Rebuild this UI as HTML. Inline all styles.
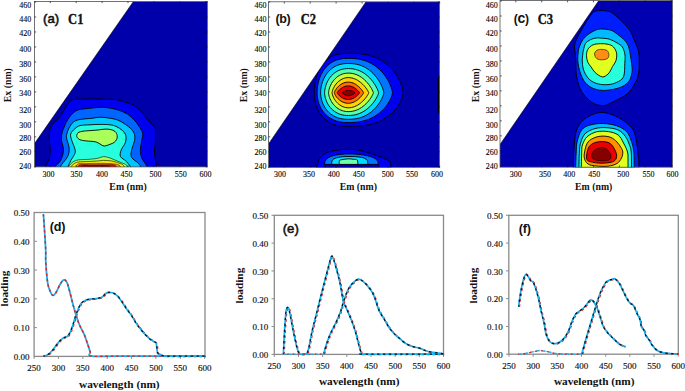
<!DOCTYPE html>
<html><head><meta charset="utf-8"><style>html,body{margin:0;padding:0;background:#fff;width:685px;height:391px;overflow:hidden}svg{display:block}</style></head>
<body>
<svg width="685" height="391" viewBox="0 0 685 391">
<style>
    .tk{font-family:"Liberation Serif",serif;font-size:8px;fill:#000;stroke:#000;stroke-width:0.1px}
    .tk2{font-family:"Liberation Serif",serif;font-size:9px;fill:#111;stroke:#111;stroke-width:0.15px}
    .lab{font-family:"Liberation Serif",serif;font-size:9.8px;font-weight:bold;fill:#111}
    .lab2{font-family:"Liberation Serif",serif;font-size:11.3px;font-weight:bold;fill:#111}
    .ttl{font-family:"Liberation Sans",sans-serif;fill:#111}
    .ttl2{font-family:"Liberation Serif",serif;font-size:13.9px;font-weight:bold;fill:#111}
    </style>
<rect width="685" height="391" fill="#fff"/>
<defs><clipPath id="clipa"><rect x="34.50" y="1.40" width="172.90" height="165.50"/></clipPath></defs>
<g clip-path="url(#clipa)">
<rect x="34.50" y="1.40" width="172.90" height="165.50" fill="rgb(0,0,170)"/>
<path d="M44.00,172.00 C44.35,170.80 45.23,167.02 46.10,164.80 C46.97,162.58 48.52,161.08 49.20,158.70 C49.88,156.32 50.17,153.58 50.20,150.50 C50.23,147.42 49.52,143.12 49.40,140.20 C49.28,137.28 49.18,135.42 49.50,133.00 C49.82,130.58 49.98,127.93 51.30,125.70 C52.62,123.47 55.70,121.48 57.40,119.60 C59.10,117.72 59.80,116.97 61.50,114.40 C63.20,111.83 65.90,106.58 67.60,104.20 C69.30,101.82 69.97,100.93 71.70,100.10 C73.43,99.27 74.95,99.38 78.00,99.20 C81.05,99.02 86.33,99.02 90.00,99.00 C93.67,98.98 95.77,99.00 100.00,99.10 C104.23,99.20 111.13,99.08 115.40,99.60 C119.67,100.12 122.53,101.27 125.60,102.20 C128.67,103.13 131.45,103.90 133.80,105.20 C136.15,106.50 137.87,108.18 139.70,110.00 C141.53,111.82 142.93,113.88 144.80,116.10 C146.67,118.32 149.20,121.25 150.90,123.30 C152.60,125.35 154.23,126.35 155.00,128.40 C155.77,130.45 155.47,133.00 155.50,135.60 C155.53,138.20 155.38,141.35 155.20,144.00 C155.02,146.65 154.38,149.05 154.40,151.50 C154.42,153.95 154.98,156.15 155.30,158.70 C155.62,161.25 156.10,164.58 156.30,166.80 C156.50,169.02 156.47,171.13 156.50,172.00Z" fill="rgb(0,0,240)" stroke="#000" stroke-width="0.90"/>
<path d="M54.00,172.00 C54.23,171.05 54.32,168.18 55.40,166.30 C56.48,164.42 59.15,163.33 60.50,160.70 C61.85,158.07 63.33,153.92 63.50,150.50 C63.67,147.08 61.75,143.12 61.50,140.20 C61.25,137.28 61.67,134.90 62.00,133.00 C62.33,131.10 62.73,130.70 63.50,128.80 C64.27,126.90 65.40,123.82 66.60,121.60 C67.80,119.38 69.00,117.37 70.70,115.50 C72.40,113.63 74.42,111.52 76.80,110.40 C79.18,109.28 82.30,109.20 85.00,108.80 C87.70,108.40 90.50,108.25 93.00,108.00 C95.50,107.75 97.47,107.33 100.00,107.30 C102.53,107.27 105.17,107.35 108.20,107.80 C111.23,108.25 115.00,108.95 118.20,110.00 C121.40,111.05 124.68,112.40 127.40,114.10 C130.12,115.80 132.45,117.98 134.50,120.20 C136.55,122.42 138.33,125.18 139.70,127.40 C141.07,129.62 142.37,131.28 142.70,133.50 C143.03,135.72 142.10,137.87 141.70,140.70 C141.30,143.53 140.25,147.50 140.30,150.50 C140.35,153.50 141.03,156.32 142.00,158.70 C142.97,161.08 145.00,162.58 146.10,164.80 C147.20,167.02 148.18,170.80 148.60,172.00Z" fill="rgb(0,100,255)" stroke="#000" stroke-width="0.90"/>
<path d="M57.50,172.00 C58.17,170.80 59.82,167.37 61.50,164.80 C63.18,162.23 66.32,159.33 67.60,156.60 C68.88,153.87 69.37,151.47 69.20,148.40 C69.03,145.33 66.95,140.77 66.60,138.20 C66.25,135.63 66.75,134.57 67.10,133.00 C67.45,131.43 67.93,130.35 68.70,128.80 C69.47,127.25 70.52,125.07 71.70,123.70 C72.88,122.33 74.08,121.35 75.80,120.60 C77.52,119.85 79.30,119.58 82.00,119.20 C84.70,118.82 89.00,118.63 92.00,118.30 C95.00,117.97 97.00,117.22 100.00,117.20 C103.00,117.18 106.97,117.70 110.00,118.20 C113.03,118.70 115.65,119.18 118.20,120.20 C120.75,121.22 123.08,122.77 125.30,124.30 C127.52,125.83 129.97,127.70 131.50,129.40 C133.03,131.10 134.00,132.62 134.50,134.50 C135.00,136.38 135.00,138.03 134.50,140.70 C134.00,143.37 131.97,147.68 131.50,150.50 C131.03,153.32 130.47,155.38 131.70,157.60 C132.93,159.82 136.93,161.40 138.90,163.80 C140.87,166.20 142.73,170.63 143.50,172.00Z" fill="rgb(0,200,255)" stroke="#000" stroke-width="0.90"/>
<path d="M65.50,172.00 C66.37,170.12 69.32,163.43 70.70,160.70 C72.08,157.97 73.03,157.30 73.80,155.60 C74.57,153.90 75.65,153.07 75.30,150.50 C74.95,147.93 72.47,142.95 71.70,140.20 C70.93,137.45 70.18,135.90 70.70,134.00 C71.22,132.10 73.25,130.20 74.80,128.80 C76.35,127.40 77.47,126.27 80.00,125.60 C82.53,124.93 86.67,125.00 90.00,124.80 C93.33,124.60 96.67,124.40 100.00,124.40 C103.33,124.40 107.32,124.47 110.00,124.80 C112.68,125.13 114.05,125.47 116.10,126.40 C118.15,127.33 120.68,128.87 122.30,130.40 C123.92,131.93 125.30,133.55 125.80,135.60 C126.30,137.65 126.07,140.30 125.30,142.70 C124.53,145.10 122.00,147.68 121.20,150.00 C120.40,152.32 119.60,154.65 120.50,156.60 C121.40,158.55 124.27,159.13 126.60,161.70 C128.93,164.27 133.18,170.28 134.50,172.00Z" fill="rgb(40,255,220)" stroke="#000" stroke-width="0.90"/>
<path d="M77.50,133.50 C77.13,134.22 76.40,135.47 76.80,136.50 C77.20,137.53 78.35,138.97 79.90,139.70 C81.45,140.43 83.53,140.55 86.10,140.90 C88.67,141.25 92.98,141.28 95.30,141.80 C97.62,142.32 98.53,143.30 100.00,144.00 C101.47,144.70 102.43,145.95 104.10,146.00 C105.77,146.05 108.35,144.88 110.00,144.30 C111.65,143.72 112.90,143.30 114.00,142.50 C115.10,141.70 116.07,140.65 116.60,139.50 C117.13,138.35 117.45,136.93 117.20,135.60 C116.95,134.27 116.30,132.53 115.10,131.50 C113.90,130.47 111.85,129.78 110.00,129.40 C108.15,129.02 106.00,129.10 104.00,129.20 C102.00,129.30 100.33,129.77 98.00,130.00 C95.67,130.23 92.50,130.40 90.00,130.60 C87.50,130.80 84.83,130.93 83.00,131.20 C81.17,131.47 79.92,131.82 79.00,132.20 C78.08,132.58 77.87,132.78 77.50,133.50Z" fill="rgb(170,255,90)" stroke="#000" stroke-width="0.90"/>
<path d="M66.50,172.00 C66.85,171.07 67.53,168.07 68.60,166.40 C69.67,164.73 71.27,163.08 72.90,162.00 C74.53,160.92 75.65,160.35 78.40,159.90 C81.15,159.45 86.12,159.58 89.40,159.30 C92.68,159.02 95.73,158.65 98.10,158.20 C100.47,157.75 101.77,156.68 103.60,156.60 C105.43,156.52 107.27,157.15 109.10,157.70 C110.93,158.25 112.60,159.08 114.60,159.90 C116.60,160.72 119.10,161.70 121.10,162.60 C123.10,163.50 125.20,163.73 126.60,165.30 C128.00,166.87 129.02,170.88 129.50,172.00Z" fill="rgb(170,255,90)" stroke="#000" stroke-width="0.60"/>
<path d="M69.50,172.00 C69.72,171.17 70.05,168.38 70.80,167.00 C71.55,165.62 72.73,164.53 74.00,163.70 C75.27,162.87 75.83,162.37 78.40,162.00 C80.97,161.63 86.12,161.68 89.40,161.50 C92.68,161.32 95.73,161.08 98.10,160.90 C100.47,160.72 101.40,160.40 103.60,160.40 C105.80,160.40 108.75,160.45 111.30,160.90 C113.85,161.35 116.90,162.37 118.90,163.10 C120.90,163.83 122.12,163.82 123.30,165.30 C124.48,166.78 125.55,170.88 126.00,172.00Z" fill="rgb(255,230,0)" stroke="#000" stroke-width="0.60"/>
<path d="M75.00,172.00 C75.38,170.73 75.82,165.78 77.30,164.40 C78.78,163.02 80.98,163.87 83.90,163.70 C86.82,163.53 91.15,163.45 94.80,163.40 C98.45,163.35 102.50,163.30 105.80,163.40 C109.10,163.50 112.23,163.58 114.60,164.00 C116.97,164.42 118.68,164.57 120.00,165.90 C121.32,167.23 122.08,170.98 122.50,172.00Z" fill="rgb(255,150,0)" stroke="#000" stroke-width="0.50"/>
<path d="M77.00,172.00 C77.33,170.87 76.83,166.42 79.00,165.20 C81.17,163.98 85.67,164.78 90.00,164.70 C94.33,164.62 100.83,164.62 105.00,164.70 C109.17,164.78 112.58,163.98 115.00,165.20 C117.42,166.42 118.75,170.87 119.50,172.00Z" fill="rgb(235,0,0)" stroke="#000" stroke-width="0.40"/>
<path d="M80.00,172.00 C80.33,171.00 79.50,167.07 82.00,166.00 C84.50,164.93 90.67,165.65 95.00,165.60 C99.33,165.55 104.50,164.63 108.00,165.70 C111.50,166.77 114.67,170.95 116.00,172.00Z" fill="rgb(135,0,0)" stroke="#000" stroke-width="0.30"/>
<path d="M32.50,-1.60 L135.59,-1.60 L32.50,146.47 Z" fill="#fff" stroke="#000" stroke-width="0.6"/>
</g>
<rect x="34.50" y="1.40" width="172.90" height="165.50" fill="none" stroke="#555" stroke-width="0.8"/>
<text x="31.20" y="7.80" class="tk" text-anchor="end">460</text>
<text x="31.20" y="22.00" class="tk" text-anchor="end">440</text>
<text x="31.20" y="36.10" class="tk" text-anchor="end">420</text>
<text x="31.20" y="51.70" class="tk" text-anchor="end">400</text>
<text x="31.20" y="66.50" class="tk" text-anchor="end">380</text>
<text x="31.20" y="81.80" class="tk" text-anchor="end">360</text>
<text x="31.20" y="96.30" class="tk" text-anchor="end">340</text>
<text x="31.20" y="112.90" class="tk" text-anchor="end">320</text>
<text x="31.20" y="127.50" class="tk" text-anchor="end">300</text>
<text x="31.20" y="140.90" class="tk" text-anchor="end">280</text>
<text x="31.20" y="154.90" class="tk" text-anchor="end">260</text>
<text x="31.20" y="169.30" class="tk" text-anchor="end">240</text>
<line x1="34.50" y1="166.80" x2="36.20" y2="166.80" stroke="#111" stroke-width="0.7"/>
<line x1="205.70" y1="166.80" x2="207.40" y2="166.80" stroke="#111" stroke-width="0.7"/>
<line x1="34.50" y1="151.82" x2="36.20" y2="151.82" stroke="#111" stroke-width="0.7"/>
<line x1="205.70" y1="151.82" x2="207.40" y2="151.82" stroke="#111" stroke-width="0.7"/>
<line x1="34.50" y1="136.84" x2="36.20" y2="136.84" stroke="#111" stroke-width="0.7"/>
<line x1="205.70" y1="136.84" x2="207.40" y2="136.84" stroke="#111" stroke-width="0.7"/>
<line x1="34.50" y1="121.86" x2="36.20" y2="121.86" stroke="#111" stroke-width="0.7"/>
<line x1="205.70" y1="121.86" x2="207.40" y2="121.86" stroke="#111" stroke-width="0.7"/>
<line x1="34.50" y1="106.88" x2="36.20" y2="106.88" stroke="#111" stroke-width="0.7"/>
<line x1="205.70" y1="106.88" x2="207.40" y2="106.88" stroke="#111" stroke-width="0.7"/>
<line x1="34.50" y1="91.90" x2="36.20" y2="91.90" stroke="#111" stroke-width="0.7"/>
<line x1="205.70" y1="91.90" x2="207.40" y2="91.90" stroke="#111" stroke-width="0.7"/>
<line x1="34.50" y1="76.92" x2="36.20" y2="76.92" stroke="#111" stroke-width="0.7"/>
<line x1="205.70" y1="76.92" x2="207.40" y2="76.92" stroke="#111" stroke-width="0.7"/>
<line x1="34.50" y1="61.94" x2="36.20" y2="61.94" stroke="#111" stroke-width="0.7"/>
<line x1="205.70" y1="61.94" x2="207.40" y2="61.94" stroke="#111" stroke-width="0.7"/>
<line x1="34.50" y1="46.96" x2="36.20" y2="46.96" stroke="#111" stroke-width="0.7"/>
<line x1="205.70" y1="46.96" x2="207.40" y2="46.96" stroke="#111" stroke-width="0.7"/>
<line x1="34.50" y1="31.98" x2="36.20" y2="31.98" stroke="#111" stroke-width="0.7"/>
<line x1="205.70" y1="31.98" x2="207.40" y2="31.98" stroke="#111" stroke-width="0.7"/>
<line x1="34.50" y1="17.00" x2="36.20" y2="17.00" stroke="#111" stroke-width="0.7"/>
<line x1="205.70" y1="17.00" x2="207.40" y2="17.00" stroke="#111" stroke-width="0.7"/>
<line x1="34.50" y1="2.02" x2="36.20" y2="2.02" stroke="#111" stroke-width="0.7"/>
<line x1="205.70" y1="2.02" x2="207.40" y2="2.02" stroke="#111" stroke-width="0.7"/>
<text x="48.50" y="176.5" class="tk" text-anchor="middle">300</text>
<text x="76.40" y="176.5" class="tk" text-anchor="middle">350</text>
<text x="102.00" y="176.5" class="tk" text-anchor="middle">400</text>
<text x="126.60" y="176.5" class="tk" text-anchor="middle">450</text>
<text x="155.50" y="176.5" class="tk" text-anchor="middle">500</text>
<text x="180.80" y="176.5" class="tk" text-anchor="middle">550</text>
<text x="205.60" y="176.5" class="tk" text-anchor="middle">600</text>
<line x1="50.30" y1="1.40" x2="50.30" y2="3.10" stroke="#111" stroke-width="0.7"/>
<line x1="50.30" y1="165.20" x2="50.30" y2="166.90" stroke="#111" stroke-width="0.7"/>
<line x1="76.20" y1="1.40" x2="76.20" y2="3.10" stroke="#111" stroke-width="0.7"/>
<line x1="76.20" y1="165.20" x2="76.20" y2="166.90" stroke="#111" stroke-width="0.7"/>
<line x1="102.10" y1="1.40" x2="102.10" y2="3.10" stroke="#111" stroke-width="0.7"/>
<line x1="102.10" y1="165.20" x2="102.10" y2="166.90" stroke="#111" stroke-width="0.7"/>
<line x1="128.00" y1="1.40" x2="128.00" y2="3.10" stroke="#111" stroke-width="0.7"/>
<line x1="128.00" y1="165.20" x2="128.00" y2="166.90" stroke="#111" stroke-width="0.7"/>
<line x1="153.90" y1="1.40" x2="153.90" y2="3.10" stroke="#111" stroke-width="0.7"/>
<line x1="153.90" y1="165.20" x2="153.90" y2="166.90" stroke="#111" stroke-width="0.7"/>
<line x1="179.80" y1="1.40" x2="179.80" y2="3.10" stroke="#111" stroke-width="0.7"/>
<line x1="179.80" y1="165.20" x2="179.80" y2="166.90" stroke="#111" stroke-width="0.7"/>
<line x1="205.70" y1="1.40" x2="205.70" y2="3.10" stroke="#111" stroke-width="0.7"/>
<line x1="205.70" y1="165.20" x2="205.70" y2="166.90" stroke="#111" stroke-width="0.7"/>
<text class="lab" x="128.00" y="189.5" text-anchor="middle">Em (nm)</text>
<text class="lab" transform="translate(10.60,85.2) rotate(-90)" text-anchor="middle">Ex (nm)</text>
<text class="ttl" x="43.10" y="23.20" font-weight="normal" font-size="13.2" letter-spacing="0.00" stroke="#111" stroke-width="0.55">(a)</text>
<text class="ttl2" x="68.10" y="23.9" textLength="15.3" lengthAdjust="spacingAndGlyphs" stroke="#111" stroke-width="0.35">C1</text>
<defs><clipPath id="clipb"><rect x="268.50" y="1.80" width="171.10" height="165.60"/></clipPath></defs>
<g clip-path="url(#clipb)">
<rect x="268.50" y="1.80" width="171.10" height="165.60" fill="rgb(0,0,170)"/>
<path d="M314.20,92.80 L314.31,89.27 L314.62,85.77 L315.14,82.33 L315.87,78.99 L316.80,75.76 L317.92,72.69 L319.22,69.79 L320.71,67.09 L322.37,64.61 L324.19,62.36 L326.15,60.36 L328.26,58.62 L330.48,57.14 L332.82,55.92 L335.25,54.96 L337.76,54.24 L340.34,53.75 L342.97,53.46 L345.62,53.33 L348.30,53.30 L352.59,53.33 L356.86,53.50 L361.07,53.86 L365.20,54.47 L369.23,55.35 L373.13,56.52 L376.88,58.00 L380.45,59.78 L383.82,61.86 L386.98,64.21 L389.89,66.80 L392.55,69.61 L394.94,72.59 L397.04,75.70 L398.84,78.88 L400.32,82.06 L401.49,85.19 L402.33,88.15 L402.83,90.82 L403.00,92.80 L402.83,94.48 L402.33,96.74 L401.49,99.26 L400.32,101.91 L398.84,104.61 L397.04,107.30 L394.94,109.94 L392.55,112.47 L389.89,114.85 L386.98,117.05 L383.82,119.04 L380.45,120.80 L376.88,122.31 L373.13,123.57 L369.23,124.56 L365.20,125.31 L361.07,125.83 L356.86,126.13 L352.59,126.27 L348.30,126.30 L345.62,126.28 L342.97,126.17 L340.34,125.92 L337.76,125.50 L335.25,124.89 L332.82,124.08 L330.48,123.04 L328.26,121.79 L326.15,120.31 L324.19,118.62 L322.37,116.71 L320.71,114.60 L319.22,112.31 L317.92,109.86 L316.80,107.25 L315.87,104.52 L315.14,101.68 L314.62,98.76 L314.31,95.80Z" fill="rgb(0,0,240)" stroke="#000" stroke-width="0.90" stroke-linejoin="round"/>
<path d="M317.10,92.80 L317.20,89.84 L317.48,86.91 L317.96,84.03 L318.63,81.21 L319.47,78.49 L320.50,75.88 L321.70,73.40 L323.06,71.08 L324.58,68.92 L326.24,66.95 L328.04,65.17 L329.96,63.60 L332.00,62.24 L334.14,61.09 L336.36,60.16 L338.66,59.44 L341.02,58.93 L343.42,58.60 L345.85,58.44 L348.30,58.40 L351.76,58.45 L355.20,58.67 L358.59,59.12 L361.93,59.81 L365.18,60.77 L368.32,62.01 L371.34,63.51 L374.22,65.27 L376.94,67.27 L379.48,69.48 L381.83,71.86 L383.98,74.39 L385.90,77.02 L387.59,79.69 L389.04,82.36 L390.24,84.97 L391.18,87.44 L391.86,89.68 L392.26,91.58 L392.40,92.80 L392.26,93.85 L391.86,95.49 L391.18,97.43 L390.24,99.56 L389.04,101.81 L387.59,104.12 L385.90,106.42 L383.98,108.69 L381.83,110.88 L379.48,112.94 L376.94,114.84 L374.22,116.57 L371.34,118.09 L368.32,119.39 L365.18,120.45 L361.93,121.28 L358.59,121.88 L355.20,122.26 L351.76,122.46 L348.30,122.50 L345.85,122.47 L343.42,122.33 L341.02,122.04 L338.66,121.60 L336.36,120.98 L334.14,120.18 L332.00,119.19 L329.96,118.01 L328.04,116.65 L326.24,115.12 L324.58,113.42 L323.06,111.55 L321.70,109.55 L320.50,107.41 L319.47,105.16 L318.63,102.80 L317.96,100.37 L317.48,97.88 L317.20,95.35Z" fill="rgb(0,118,255)" stroke="#000" stroke-width="0.90" stroke-linejoin="round"/>
<path d="M320.60,92.80 L320.69,90.57 L320.94,88.23 L321.37,85.88 L321.96,83.55 L322.71,81.27 L323.62,79.06 L324.68,76.95 L325.89,74.94 L327.24,73.07 L328.71,71.34 L330.31,69.77 L332.02,68.36 L333.83,67.13 L335.72,66.08 L337.70,65.22 L339.74,64.54 L341.83,64.04 L343.97,63.71 L346.13,63.54 L348.30,63.50 L351.09,63.56 L353.85,63.80 L356.59,64.25 L359.27,64.93 L361.89,65.85 L364.42,67.01 L366.85,68.41 L369.17,70.01 L371.36,71.80 L373.40,73.76 L375.29,75.86 L377.02,78.04 L378.57,80.28 L379.93,82.53 L381.10,84.74 L382.06,86.86 L382.82,88.82 L383.36,90.56 L383.69,91.97 L383.80,92.80 L383.69,93.55 L383.36,94.82 L382.82,96.40 L382.06,98.17 L381.10,100.09 L379.93,102.09 L378.57,104.12 L377.02,106.15 L375.29,108.13 L373.40,110.02 L371.36,111.79 L369.17,113.41 L366.85,114.86 L364.42,116.12 L361.89,117.17 L359.27,118.01 L356.59,118.62 L353.85,119.03 L351.09,119.25 L348.30,119.30 L346.13,119.26 L343.97,119.11 L341.83,118.81 L339.74,118.36 L337.70,117.75 L335.72,116.96 L333.83,116.02 L332.02,114.90 L330.31,113.63 L328.71,112.21 L327.24,110.64 L325.89,108.95 L324.68,107.14 L323.62,105.23 L322.71,103.23 L321.96,101.17 L321.37,99.06 L320.94,96.94 L320.69,94.82Z" fill="rgb(0,220,255)" stroke="#000" stroke-width="0.90" stroke-linejoin="round"/>
<path d="M324.60,92.80 L324.67,91.25 L324.89,89.49 L325.25,87.66 L325.76,85.81 L326.40,83.97 L327.18,82.17 L328.09,80.42 L329.13,78.74 L330.28,77.15 L331.54,75.67 L332.91,74.31 L334.37,73.08 L335.92,71.99 L337.54,71.04 L339.23,70.26 L340.98,69.62 L342.77,69.15 L344.59,68.83 L346.44,68.65 L348.30,68.60 L350.68,68.67 L353.04,68.92 L355.37,69.37 L357.66,70.04 L359.90,70.91 L362.06,71.99 L364.13,73.26 L366.11,74.70 L367.98,76.28 L369.73,77.98 L371.34,79.76 L372.81,81.59 L374.13,83.44 L375.30,85.26 L376.29,87.01 L377.12,88.64 L377.76,90.11 L378.23,91.36 L378.51,92.31 L378.60,92.80 L378.51,93.26 L378.23,94.15 L377.76,95.32 L377.12,96.70 L376.29,98.23 L375.30,99.87 L374.13,101.58 L372.81,103.31 L371.34,105.03 L369.73,106.71 L367.98,108.30 L366.11,109.78 L364.13,111.13 L362.06,112.32 L359.90,113.33 L357.66,114.15 L355.37,114.78 L353.04,115.20 L350.68,115.43 L348.30,115.50 L346.44,115.45 L344.59,115.29 L342.77,114.99 L340.98,114.54 L339.23,113.95 L337.54,113.21 L335.92,112.32 L334.37,111.30 L332.91,110.14 L331.54,108.87 L330.28,107.48 L329.13,105.99 L328.09,104.42 L327.18,102.77 L326.40,101.08 L325.76,99.36 L325.25,97.62 L324.89,95.91 L324.67,94.25Z" fill="rgb(80,255,180)" stroke="#000" stroke-width="0.90" stroke-linejoin="round"/>
<path d="M328.60,92.80 L328.66,91.84 L328.84,90.61 L329.14,89.26 L329.56,87.85 L330.10,86.41 L330.75,84.96 L331.50,83.53 L332.36,82.14 L333.32,80.81 L334.37,79.54 L335.51,78.36 L336.72,77.27 L338.01,76.30 L339.36,75.45 L340.76,74.72 L342.21,74.12 L343.70,73.66 L345.22,73.34 L346.75,73.16 L348.30,73.10 L350.27,73.18 L352.23,73.43 L354.16,73.86 L356.06,74.48 L357.91,75.28 L359.70,76.23 L361.41,77.34 L363.05,78.57 L364.60,79.91 L366.05,81.33 L367.39,82.80 L368.61,84.29 L369.70,85.77 L370.66,87.21 L371.49,88.57 L372.17,89.82 L372.71,90.92 L373.09,91.82 L373.32,92.48 L373.40,92.80 L373.32,93.10 L373.09,93.73 L372.71,94.60 L372.17,95.65 L371.49,96.84 L370.66,98.13 L369.70,99.51 L368.61,100.92 L367.39,102.34 L366.05,103.75 L364.60,105.10 L363.05,106.38 L361.41,107.55 L359.70,108.61 L357.91,109.52 L356.06,110.28 L354.16,110.87 L352.23,111.29 L350.27,111.53 L348.30,111.60 L346.75,111.55 L345.22,111.37 L343.70,111.06 L342.21,110.63 L340.76,110.06 L339.36,109.36 L338.01,108.55 L336.72,107.62 L335.51,106.58 L334.37,105.46 L333.32,104.25 L332.36,102.97 L331.50,101.64 L330.75,100.28 L330.10,98.90 L329.56,97.52 L329.14,96.18 L328.84,94.89 L328.66,93.71Z" fill="rgb(200,255,60)" stroke="#000" stroke-width="0.90" stroke-linejoin="round"/>
<path d="M332.10,92.80 L332.15,92.24 L332.30,91.44 L332.55,90.51 L332.89,89.50 L333.33,88.44 L333.87,87.35 L334.49,86.26 L335.19,85.18 L335.98,84.13 L336.84,83.11 L337.78,82.15 L338.78,81.26 L339.84,80.45 L340.95,79.72 L342.10,79.09 L343.29,78.56 L344.52,78.14 L345.77,77.84 L347.03,77.66 L348.30,77.60 L349.91,77.68 L351.51,77.92 L353.09,78.31 L354.63,78.84 L356.15,79.51 L357.61,80.31 L359.01,81.21 L360.35,82.20 L361.61,83.26 L362.80,84.37 L363.89,85.50 L364.88,86.64 L365.78,87.76 L366.57,88.83 L367.24,89.83 L367.80,90.74 L368.23,91.52 L368.55,92.15 L368.74,92.60 L368.80,92.80 L368.74,93.00 L368.55,93.44 L368.23,94.06 L367.80,94.84 L367.24,95.73 L366.57,96.72 L365.78,97.78 L364.88,98.88 L363.89,100.00 L362.80,101.12 L361.61,102.22 L360.35,103.26 L359.01,104.24 L357.61,105.13 L356.15,105.91 L354.63,106.57 L353.09,107.10 L351.51,107.49 L349.91,107.72 L348.30,107.80 L347.03,107.74 L345.77,107.56 L344.52,107.26 L343.29,106.85 L342.10,106.33 L340.95,105.71 L339.84,104.99 L338.78,104.19 L337.78,103.31 L336.84,102.36 L335.98,101.36 L335.19,100.32 L334.49,99.25 L333.87,98.17 L333.33,97.10 L332.89,96.06 L332.55,95.06 L332.30,94.15 L332.15,93.35Z" fill="rgb(255,210,0)" stroke="#000" stroke-width="0.90" stroke-linejoin="round"/>
<path d="M334.40,92.80 L334.44,92.53 L334.57,92.06 L334.78,91.48 L335.08,90.83 L335.46,90.12 L335.92,89.37 L336.45,88.60 L337.05,87.82 L337.73,87.05 L338.47,86.30 L339.27,85.59 L340.13,84.91 L341.04,84.29 L341.99,83.74 L342.98,83.25 L344.00,82.85 L345.06,82.52 L346.13,82.29 L347.21,82.15 L348.30,82.10 L349.50,82.16 L350.69,82.33 L351.87,82.61 L353.03,83.00 L354.16,83.49 L355.25,84.07 L356.29,84.72 L357.29,85.43 L358.24,86.19 L359.12,86.99 L359.93,87.79 L360.68,88.60 L361.35,89.39 L361.93,90.13 L362.44,90.83 L362.85,91.45 L363.18,91.97 L363.41,92.39 L363.55,92.68 L363.60,92.80 L363.55,92.92 L363.41,93.20 L363.18,93.61 L362.85,94.13 L362.44,94.74 L361.93,95.42 L361.35,96.15 L360.68,96.92 L359.93,97.71 L359.12,98.51 L358.24,99.28 L357.29,100.03 L356.29,100.73 L355.25,101.37 L354.16,101.93 L353.03,102.41 L351.87,102.79 L350.69,103.07 L349.50,103.24 L348.30,103.30 L347.21,103.25 L346.13,103.11 L345.06,102.88 L344.00,102.57 L342.98,102.17 L341.99,101.69 L341.04,101.15 L340.13,100.54 L339.27,99.88 L338.47,99.17 L337.73,98.44 L337.05,97.68 L336.45,96.92 L335.92,96.17 L335.46,95.43 L335.08,94.74 L334.78,94.09 L334.57,93.53 L334.44,93.07Z" fill="rgb(255,110,0)" stroke="#000" stroke-width="0.90" stroke-linejoin="round"/>
<path d="M337.30,92.80 L337.33,92.68 L337.44,92.45 L337.60,92.13 L337.84,91.75 L338.14,91.32 L338.50,90.85 L338.92,90.36 L339.40,89.85 L339.94,89.34 L340.52,88.84 L341.16,88.35 L341.83,87.88 L342.55,87.45 L343.31,87.06 L344.09,86.72 L344.90,86.43 L345.73,86.20 L346.58,86.04 L347.44,85.93 L348.30,85.90 L349.19,85.94 L350.07,86.05 L350.94,86.24 L351.79,86.50 L352.62,86.82 L353.43,87.19 L354.20,87.62 L354.94,88.09 L355.64,88.59 L356.29,89.10 L356.89,89.63 L357.44,90.15 L357.93,90.66 L358.37,91.13 L358.74,91.58 L359.05,91.97 L359.29,92.30 L359.46,92.56 L359.57,92.73 L359.60,92.80 L359.57,92.87 L359.46,93.04 L359.29,93.29 L359.05,93.61 L358.74,93.99 L358.37,94.42 L357.93,94.88 L357.44,95.37 L356.89,95.88 L356.29,96.39 L355.64,96.89 L354.94,97.38 L354.20,97.83 L353.43,98.24 L352.62,98.61 L351.79,98.92 L350.94,99.17 L350.07,99.35 L349.19,99.46 L348.30,99.50 L347.44,99.47 L346.58,99.37 L345.73,99.21 L344.90,98.98 L344.09,98.70 L343.31,98.37 L342.55,97.99 L341.83,97.57 L341.16,97.12 L340.52,96.65 L339.94,96.16 L339.40,95.66 L338.92,95.17 L338.50,94.69 L338.14,94.24 L337.84,93.82 L337.60,93.45 L337.44,93.14 L337.33,92.91Z" fill="rgb(235,0,0)" stroke="#000" stroke-width="0.90" stroke-linejoin="round"/>
<path d="M342.40,92.80 L342.42,92.78 L342.47,92.71 L342.56,92.63 L342.69,92.51 L342.85,92.37 L343.04,92.22 L343.27,92.05 L343.53,91.88 L343.81,91.70 L344.13,91.51 L344.47,91.33 L344.83,91.16 L345.22,91.00 L345.62,90.85 L346.04,90.72 L346.48,90.61 L346.92,90.52 L347.38,90.45 L347.84,90.41 L348.30,90.40 L348.83,90.41 L349.35,90.46 L349.86,90.52 L350.37,90.62 L350.86,90.74 L351.34,90.87 L351.80,91.03 L352.24,91.20 L352.65,91.37 L353.04,91.56 L353.39,91.74 L353.72,91.93 L354.01,92.10 L354.27,92.26 L354.49,92.41 L354.67,92.54 L354.81,92.65 L354.92,92.73 L354.98,92.78 L355.00,92.80 L354.98,92.82 L354.92,92.89 L354.81,92.98 L354.67,93.11 L354.49,93.27 L354.27,93.45 L354.01,93.64 L353.72,93.86 L353.39,94.08 L353.04,94.30 L352.65,94.52 L352.24,94.74 L351.80,94.94 L351.34,95.13 L350.86,95.29 L350.37,95.44 L349.86,95.55 L349.35,95.63 L348.83,95.68 L348.30,95.70 L347.84,95.68 L347.38,95.64 L346.92,95.56 L346.48,95.45 L346.04,95.31 L345.62,95.16 L345.22,94.98 L344.83,94.78 L344.47,94.57 L344.13,94.35 L343.81,94.13 L343.53,93.91 L343.27,93.70 L343.04,93.50 L342.85,93.31 L342.69,93.15 L342.56,93.01 L342.47,92.90 L342.42,92.83Z" fill="rgb(135,0,0)" stroke="#000" stroke-width="0.90" stroke-linejoin="round"/>
<path d="M316.00,170.00 C316.13,169.33 316.00,168.23 316.80,166.00 C317.60,163.77 318.77,158.95 320.80,156.60 C322.83,154.25 326.07,153.00 329.00,151.90 C331.93,150.80 335.28,150.43 338.40,150.00 C341.52,149.57 344.20,149.27 347.70,149.30 C351.20,149.33 355.50,149.47 359.40,150.20 C363.30,150.93 367.20,152.43 371.10,153.70 C375.00,154.97 379.68,156.43 382.80,157.80 C385.92,159.17 388.43,160.53 389.80,161.90 C391.17,163.27 390.80,164.65 391.00,166.00 C391.20,167.35 391.00,169.33 391.00,170.00Z" fill="rgb(0,0,240)" stroke="#000" stroke-width="0.90"/>
<path d="M324.80,164.40 C324.82,163.92 324.53,162.47 324.90,161.50 C325.27,160.53 325.82,159.52 327.00,158.60 C328.18,157.68 329.83,156.70 332.00,156.00 C334.17,155.30 337.33,154.75 340.00,154.40 C342.67,154.05 345.00,153.92 348.00,153.90 C351.00,153.88 354.83,154.00 358.00,154.30 C361.17,154.60 364.33,155.08 367.00,155.70 C369.67,156.32 372.23,157.12 374.00,158.00 C375.77,158.88 376.90,159.93 377.60,161.00 C378.30,162.07 378.10,163.83 378.20,164.40Z" fill="rgb(0,118,255)" stroke="#000" stroke-width="0.90"/>
<path d="M331.80,164.40 C331.83,163.83 331.47,162.02 332.00,161.00 C332.53,159.98 333.33,159.00 335.00,158.30 C336.67,157.60 339.50,157.10 342.00,156.80 C344.50,156.50 347.33,156.48 350.00,156.50 C352.67,156.52 355.67,156.65 358.00,156.90 C360.33,157.15 362.45,157.40 364.00,158.00 C365.55,158.60 366.68,159.43 367.30,160.50 C367.92,161.57 367.63,163.75 367.70,164.40Z" fill="rgb(0,220,255)" stroke="#000" stroke-width="0.90"/>
<path d="M339.30,164.40 C339.33,163.75 338.88,161.32 339.50,160.50 C340.12,159.68 341.43,159.78 343.00,159.50 C344.57,159.22 347.23,158.83 348.90,158.80 C350.57,158.77 351.60,159.10 353.00,159.30 C354.40,159.50 356.52,159.15 357.30,160.00 C358.08,160.85 357.63,163.67 357.70,164.40Z" fill="rgb(110,255,170)" stroke="#000" stroke-width="0.90"/>
<rect x="324.8" y="164.4" width="53.4" height="4" fill="rgb(0,0,170)" stroke="#000" stroke-width="0.6"/>
<line x1="438.6" y1="77.4" x2="438.6" y2="113.2" stroke="#000" stroke-width="1.6"/>
<path d="M266.50,-1.20 L368.06,-1.20 L266.50,146.92 Z" fill="#fff" stroke="#000" stroke-width="0.6"/>
</g>
<rect x="268.50" y="1.80" width="171.10" height="165.60" fill="none" stroke="#555" stroke-width="0.8"/>
<text x="266.60" y="7.80" class="tk" text-anchor="end">460</text>
<text x="266.60" y="22.00" class="tk" text-anchor="end">440</text>
<text x="266.60" y="36.10" class="tk" text-anchor="end">420</text>
<text x="266.60" y="51.70" class="tk" text-anchor="end">400</text>
<text x="266.60" y="66.50" class="tk" text-anchor="end">380</text>
<text x="266.60" y="81.80" class="tk" text-anchor="end">360</text>
<text x="266.60" y="96.30" class="tk" text-anchor="end">340</text>
<text x="266.60" y="112.90" class="tk" text-anchor="end">320</text>
<text x="266.60" y="127.50" class="tk" text-anchor="end">300</text>
<text x="266.60" y="140.90" class="tk" text-anchor="end">280</text>
<text x="266.60" y="154.90" class="tk" text-anchor="end">260</text>
<text x="266.60" y="169.30" class="tk" text-anchor="end">240</text>
<line x1="268.50" y1="166.80" x2="270.20" y2="166.80" stroke="#111" stroke-width="0.7"/>
<line x1="437.90" y1="166.80" x2="439.60" y2="166.80" stroke="#111" stroke-width="0.7"/>
<line x1="268.50" y1="151.82" x2="270.20" y2="151.82" stroke="#111" stroke-width="0.7"/>
<line x1="437.90" y1="151.82" x2="439.60" y2="151.82" stroke="#111" stroke-width="0.7"/>
<line x1="268.50" y1="136.84" x2="270.20" y2="136.84" stroke="#111" stroke-width="0.7"/>
<line x1="437.90" y1="136.84" x2="439.60" y2="136.84" stroke="#111" stroke-width="0.7"/>
<line x1="268.50" y1="121.86" x2="270.20" y2="121.86" stroke="#111" stroke-width="0.7"/>
<line x1="437.90" y1="121.86" x2="439.60" y2="121.86" stroke="#111" stroke-width="0.7"/>
<line x1="268.50" y1="106.88" x2="270.20" y2="106.88" stroke="#111" stroke-width="0.7"/>
<line x1="437.90" y1="106.88" x2="439.60" y2="106.88" stroke="#111" stroke-width="0.7"/>
<line x1="268.50" y1="91.90" x2="270.20" y2="91.90" stroke="#111" stroke-width="0.7"/>
<line x1="437.90" y1="91.90" x2="439.60" y2="91.90" stroke="#111" stroke-width="0.7"/>
<line x1="268.50" y1="76.92" x2="270.20" y2="76.92" stroke="#111" stroke-width="0.7"/>
<line x1="437.90" y1="76.92" x2="439.60" y2="76.92" stroke="#111" stroke-width="0.7"/>
<line x1="268.50" y1="61.94" x2="270.20" y2="61.94" stroke="#111" stroke-width="0.7"/>
<line x1="437.90" y1="61.94" x2="439.60" y2="61.94" stroke="#111" stroke-width="0.7"/>
<line x1="268.50" y1="46.96" x2="270.20" y2="46.96" stroke="#111" stroke-width="0.7"/>
<line x1="437.90" y1="46.96" x2="439.60" y2="46.96" stroke="#111" stroke-width="0.7"/>
<line x1="268.50" y1="31.98" x2="270.20" y2="31.98" stroke="#111" stroke-width="0.7"/>
<line x1="437.90" y1="31.98" x2="439.60" y2="31.98" stroke="#111" stroke-width="0.7"/>
<line x1="268.50" y1="17.00" x2="270.20" y2="17.00" stroke="#111" stroke-width="0.7"/>
<line x1="437.90" y1="17.00" x2="439.60" y2="17.00" stroke="#111" stroke-width="0.7"/>
<line x1="268.50" y1="2.02" x2="270.20" y2="2.02" stroke="#111" stroke-width="0.7"/>
<line x1="437.90" y1="2.02" x2="439.60" y2="2.02" stroke="#111" stroke-width="0.7"/>
<text x="280.00" y="176.5" class="tk" text-anchor="middle">300</text>
<text x="309.10" y="176.5" class="tk" text-anchor="middle">350</text>
<text x="333.80" y="176.5" class="tk" text-anchor="middle">400</text>
<text x="358.80" y="176.5" class="tk" text-anchor="middle">450</text>
<text x="387.70" y="176.5" class="tk" text-anchor="middle">500</text>
<text x="412.10" y="176.5" class="tk" text-anchor="middle">550</text>
<text x="437.10" y="176.5" class="tk" text-anchor="middle">600</text>
<line x1="284.30" y1="1.80" x2="284.30" y2="3.50" stroke="#111" stroke-width="0.7"/>
<line x1="284.30" y1="165.70" x2="284.30" y2="167.40" stroke="#111" stroke-width="0.7"/>
<line x1="310.20" y1="1.80" x2="310.20" y2="3.50" stroke="#111" stroke-width="0.7"/>
<line x1="310.20" y1="165.70" x2="310.20" y2="167.40" stroke="#111" stroke-width="0.7"/>
<line x1="336.10" y1="1.80" x2="336.10" y2="3.50" stroke="#111" stroke-width="0.7"/>
<line x1="336.10" y1="165.70" x2="336.10" y2="167.40" stroke="#111" stroke-width="0.7"/>
<line x1="362.00" y1="1.80" x2="362.00" y2="3.50" stroke="#111" stroke-width="0.7"/>
<line x1="362.00" y1="165.70" x2="362.00" y2="167.40" stroke="#111" stroke-width="0.7"/>
<line x1="387.90" y1="1.80" x2="387.90" y2="3.50" stroke="#111" stroke-width="0.7"/>
<line x1="387.90" y1="165.70" x2="387.90" y2="167.40" stroke="#111" stroke-width="0.7"/>
<line x1="413.80" y1="1.80" x2="413.80" y2="3.50" stroke="#111" stroke-width="0.7"/>
<line x1="413.80" y1="165.70" x2="413.80" y2="167.40" stroke="#111" stroke-width="0.7"/>
<line x1="439.70" y1="1.80" x2="439.70" y2="3.50" stroke="#111" stroke-width="0.7"/>
<line x1="439.70" y1="165.70" x2="439.70" y2="167.40" stroke="#111" stroke-width="0.7"/>
<text class="lab" x="358.30" y="189.5" text-anchor="middle">Em (nm)</text>
<text class="lab" transform="translate(246.50,85.2) rotate(-90)" text-anchor="middle">Ex (nm)</text>
<text class="ttl" x="275.40" y="23.20" font-weight="bold" font-size="12.5" letter-spacing="-0.40">(b)</text>
<text class="ttl2" x="300.80" y="23.9" textLength="15.3" lengthAdjust="spacingAndGlyphs" stroke="#111" stroke-width="0.35">C2</text>
<defs><clipPath id="clipc"><rect x="500.00" y="0.60" width="172.50" height="166.60"/></clipPath></defs>
<g clip-path="url(#clipc)">
<rect x="500.00" y="0.60" width="172.50" height="166.60" fill="rgb(0,0,176)"/>
<path d="M575.80,60.00 C575.52,55.32 574.48,49.40 574.60,46.00 C574.72,42.60 575.55,41.93 576.50,39.60 C577.45,37.27 578.80,34.77 580.30,32.00 C581.80,29.23 583.78,25.78 585.50,23.00 C587.22,20.22 589.12,17.23 590.60,15.30 C592.08,13.37 592.83,12.18 594.40,11.40 C595.97,10.62 598.25,10.70 600.00,10.60 C601.75,10.50 603.05,10.52 604.90,10.80 C606.75,11.08 608.78,11.03 611.10,12.30 C613.42,13.57 616.25,16.10 618.80,18.40 C621.35,20.70 624.37,23.78 626.40,26.10 C628.43,28.42 629.72,30.00 631.00,32.30 C632.28,34.60 632.93,37.08 634.10,39.90 C635.27,42.72 637.15,45.85 638.00,49.20 C638.85,52.55 639.12,55.85 639.20,60.00 C639.28,64.15 639.25,70.12 638.50,74.10 C637.75,78.08 636.27,80.85 634.70,83.90 C633.13,86.95 631.43,90.05 629.10,92.40 C626.77,94.75 623.75,96.25 620.70,98.00 C617.65,99.75 613.62,101.62 610.80,102.90 C607.98,104.18 606.62,105.58 603.80,105.70 C600.98,105.82 596.95,105.12 593.90,103.60 C590.85,102.08 587.85,99.18 585.50,96.60 C583.15,94.02 581.33,91.85 579.80,88.10 C578.27,84.35 576.97,78.78 576.30,74.10 C575.63,69.42 576.08,64.68 575.80,60.00Z" fill="rgb(0,30,252)" stroke="#000" stroke-width="0.90"/>
<path d="M577.90,62.00 C577.63,58.78 577.90,54.67 578.20,52.00 C578.50,49.33 578.92,48.07 579.70,46.00 C580.48,43.93 581.52,41.52 582.90,39.60 C584.28,37.68 586.08,35.98 588.00,34.50 C589.92,33.02 592.30,31.62 594.40,30.70 C596.50,29.78 597.87,29.08 600.60,29.00 C603.33,28.92 608.03,29.35 610.80,30.20 C613.57,31.05 614.85,32.38 617.20,34.10 C619.55,35.82 622.98,38.37 624.90,40.50 C626.82,42.63 627.77,44.35 628.70,46.90 C629.63,49.45 629.97,52.62 630.50,55.80 C631.03,58.98 631.67,63.18 631.90,66.00 C632.13,68.82 632.37,70.18 631.90,72.70 C631.43,75.22 630.73,78.77 629.10,81.10 C627.47,83.43 624.92,85.30 622.10,86.70 C619.28,88.10 615.72,88.90 612.20,89.50 C608.68,90.10 604.52,90.65 601.00,90.30 C597.48,89.95 593.92,88.93 591.10,87.40 C588.28,85.87 585.98,83.78 584.10,81.10 C582.22,78.42 580.83,74.48 579.80,71.30 C578.77,68.12 578.17,65.22 577.90,62.00Z" fill="rgb(0,185,255)" stroke="#000" stroke-width="0.90"/>
<path d="M582.30,62.00 C582.08,59.12 582.60,56.00 582.80,54.00 C583.00,52.00 583.05,51.75 583.50,50.00 C583.95,48.25 584.32,45.23 585.50,43.50 C586.68,41.77 588.85,40.52 590.60,39.60 C592.35,38.68 594.33,38.25 596.00,38.00 C597.67,37.75 598.35,37.90 600.60,38.10 C602.85,38.30 606.73,38.38 609.50,39.20 C612.27,40.02 615.07,41.72 617.20,43.00 C619.33,44.28 621.02,44.98 622.30,46.90 C623.58,48.82 624.48,51.73 624.90,54.50 C625.32,57.27 625.03,59.77 624.80,63.50 C624.57,67.23 624.90,73.73 623.50,76.90 C622.10,80.07 618.98,81.22 616.40,82.50 C613.82,83.78 611.05,84.37 608.00,84.60 C604.95,84.83 601.15,84.72 598.10,83.90 C595.05,83.08 592.03,81.80 589.70,79.70 C587.37,77.60 585.33,74.25 584.10,71.30 C582.87,68.35 582.52,64.88 582.30,62.00Z" fill="rgb(40,255,220)" stroke="#000" stroke-width="0.90"/>
<path d="M587.80,62.20 C587.03,60.33 586.50,57.93 586.50,55.80 C586.50,53.67 586.73,51.22 587.80,49.40 C588.87,47.58 590.77,45.85 592.90,44.90 C595.03,43.95 598.05,43.80 600.60,43.70 C603.15,43.60 606.07,43.77 608.20,44.30 C610.33,44.83 612.00,45.42 613.40,46.90 C614.80,48.38 616.18,50.87 616.60,53.20 C617.02,55.53 616.58,58.68 615.90,60.90 C615.22,63.12 613.35,64.98 612.50,66.50 C611.65,68.02 611.55,68.73 610.80,70.00 C610.05,71.27 609.40,72.95 608.00,74.10 C606.60,75.25 604.52,77.13 602.40,76.90 C600.28,76.67 597.18,74.35 595.30,72.70 C593.42,71.05 592.35,68.75 591.10,67.00 C589.85,65.25 588.57,64.07 587.80,62.20Z" fill="rgb(225,255,30)" stroke="#000" stroke-width="0.90"/>
<path d="M594.50,54.00 C594.50,52.57 595.75,50.97 597.00,50.20 C598.25,49.43 600.33,49.35 602.00,49.40 C603.67,49.45 605.85,49.65 607.00,50.50 C608.15,51.35 608.82,53.17 608.90,54.50 C608.98,55.83 608.57,57.62 607.50,58.50 C606.43,59.38 604.25,59.75 602.50,59.80 C600.75,59.85 598.33,59.77 597.00,58.80 C595.67,57.83 594.50,55.43 594.50,54.00Z" fill="rgb(255,140,20)" stroke="#000" stroke-width="0.60"/>
<path d="M573.30,170.00 C573.45,166.10 573.65,153.27 574.20,146.60 C574.75,139.93 575.08,134.43 576.60,130.00 C578.12,125.57 580.52,122.63 583.30,120.00 C586.08,117.37 589.97,115.45 593.30,114.20 C596.63,112.95 599.70,112.23 603.30,112.50 C606.90,112.77 611.30,114.28 614.90,115.80 C618.50,117.32 621.85,119.23 624.90,121.60 C627.95,123.97 631.27,126.67 633.20,130.00 C635.13,133.33 635.67,137.45 636.50,141.60 C637.33,145.75 637.78,150.60 638.20,154.90 C638.62,159.20 638.87,164.88 639.00,167.40 C639.13,169.92 639.00,169.57 639.00,170.00Z" fill="rgb(0,30,252)" stroke="#000" stroke-width="0.90"/>
<path d="M575.60,170.00 C575.70,167.00 575.93,156.73 576.20,152.00 C576.47,147.27 576.30,145.27 577.20,141.60 C578.10,137.93 579.47,132.77 581.60,130.00 C583.73,127.23 586.38,126.08 590.00,125.00 C593.62,123.92 598.87,123.37 603.30,123.50 C607.73,123.63 612.72,124.45 616.60,125.80 C620.48,127.15 624.12,128.97 626.60,131.60 C629.08,134.23 630.30,138.20 631.50,141.60 C632.70,145.00 633.35,147.70 633.80,152.00 C634.25,156.30 634.12,164.40 634.20,167.40 C634.28,170.40 634.28,169.57 634.30,170.00Z" fill="rgb(0,185,255)" stroke="#000" stroke-width="0.90"/>
<path d="M578.80,170.00 C578.90,167.00 579.12,156.45 579.40,152.00 C579.68,147.55 579.57,146.33 580.50,143.30 C581.43,140.27 582.58,136.25 585.00,133.80 C587.42,131.35 591.40,129.62 595.00,128.60 C598.60,127.58 602.73,127.47 606.60,127.70 C610.47,127.93 615.05,128.52 618.20,130.00 C621.35,131.48 623.62,134.10 625.50,136.60 C627.38,139.10 628.55,142.43 629.50,145.00 C630.45,147.57 630.87,148.27 631.20,152.00 C631.53,155.73 631.45,164.40 631.50,167.40 C631.55,170.40 631.50,169.57 631.50,170.00Z" fill="rgb(40,255,220)" stroke="#000" stroke-width="0.90"/>
<path d="M581.30,170.00 C581.37,167.00 581.50,156.18 581.70,152.00 C581.90,147.82 581.62,147.43 582.50,144.90 C583.38,142.37 584.65,138.98 587.00,136.80 C589.35,134.62 593.05,132.67 596.60,131.80 C600.15,130.93 604.70,131.07 608.30,131.60 C611.90,132.13 615.67,133.10 618.20,135.00 C620.73,136.90 621.95,140.17 623.50,143.00 C625.05,145.83 626.75,149.17 627.50,152.00 C628.25,154.83 627.92,157.00 628.00,160.00 C628.08,163.00 628.00,168.33 628.00,170.00Z" fill="rgb(225,255,30)" stroke="#000" stroke-width="0.90"/>
<path d="M584.30,158.00 C583.80,155.65 584.38,152.57 585.00,149.90 C585.62,147.23 586.33,144.07 588.00,142.00 C589.67,139.93 592.50,138.48 595.00,137.50 C597.50,136.52 600.33,136.10 603.00,136.10 C605.67,136.10 608.67,136.52 611.00,137.50 C613.33,138.48 615.33,140.33 617.00,142.00 C618.67,143.67 620.03,145.83 621.00,147.50 C621.97,149.17 622.72,150.25 622.80,152.00 C622.88,153.75 622.47,156.08 621.50,158.00 C620.53,159.92 619.25,162.13 617.00,163.50 C614.75,164.87 611.50,165.78 608.00,166.20 C604.50,166.62 599.33,166.37 596.00,166.00 C592.67,165.63 589.95,165.33 588.00,164.00 C586.05,162.67 584.80,160.35 584.30,158.00Z" fill="rgb(255,145,0)" stroke="#000" stroke-width="0.90"/>
<path d="M586.60,158.20 C586.32,155.98 587.18,150.78 588.30,148.30 C589.42,145.82 591.08,144.42 593.30,143.30 C595.52,142.18 598.83,141.60 601.60,141.60 C604.37,141.60 607.68,141.92 609.90,143.30 C612.12,144.68 613.78,147.68 614.90,149.90 C616.02,152.12 616.87,154.65 616.60,156.60 C616.33,158.55 615.80,160.50 613.30,161.60 C610.80,162.70 605.48,163.20 601.60,163.20 C597.72,163.20 592.50,162.43 590.00,161.60 C587.50,160.77 586.88,160.42 586.60,158.20Z" fill="rgb(235,0,0)" stroke="#000" stroke-width="0.90"/>
<path d="M591.60,154.90 C591.88,153.37 593.33,151.15 595.00,149.90 C596.67,148.65 599.67,147.53 601.60,147.40 C603.53,147.27 605.07,147.85 606.60,149.10 C608.13,150.35 610.38,153.10 610.80,154.90 C611.22,156.70 610.90,158.93 609.10,159.90 C607.30,160.87 602.63,160.83 600.00,160.70 C597.37,160.57 594.70,160.07 593.30,159.10 C591.90,158.13 591.32,156.43 591.60,154.90Z" fill="rgb(135,0,0)" stroke="#000" stroke-width="0.60"/>
<path d="M498.00,-2.40 L600.86,-2.40 L498.00,147.41 Z" fill="#fff" stroke="#000" stroke-width="0.6"/>
</g>
<rect x="500.00" y="0.60" width="172.50" height="166.60" fill="none" stroke="#555" stroke-width="0.8"/>
<text x="497.80" y="7.80" class="tk" text-anchor="end">460</text>
<text x="497.80" y="22.00" class="tk" text-anchor="end">440</text>
<text x="497.80" y="36.10" class="tk" text-anchor="end">420</text>
<text x="497.80" y="51.70" class="tk" text-anchor="end">400</text>
<text x="497.80" y="66.50" class="tk" text-anchor="end">380</text>
<text x="497.80" y="81.80" class="tk" text-anchor="end">360</text>
<text x="497.80" y="96.30" class="tk" text-anchor="end">340</text>
<text x="497.80" y="112.90" class="tk" text-anchor="end">320</text>
<text x="497.80" y="127.50" class="tk" text-anchor="end">300</text>
<text x="497.80" y="140.90" class="tk" text-anchor="end">280</text>
<text x="497.80" y="154.90" class="tk" text-anchor="end">260</text>
<text x="497.80" y="169.30" class="tk" text-anchor="end">240</text>
<line x1="500.00" y1="165.80" x2="501.70" y2="165.80" stroke="#111" stroke-width="0.7"/>
<line x1="670.80" y1="165.80" x2="672.50" y2="165.80" stroke="#111" stroke-width="0.7"/>
<line x1="500.00" y1="150.82" x2="501.70" y2="150.82" stroke="#111" stroke-width="0.7"/>
<line x1="670.80" y1="150.82" x2="672.50" y2="150.82" stroke="#111" stroke-width="0.7"/>
<line x1="500.00" y1="135.84" x2="501.70" y2="135.84" stroke="#111" stroke-width="0.7"/>
<line x1="670.80" y1="135.84" x2="672.50" y2="135.84" stroke="#111" stroke-width="0.7"/>
<line x1="500.00" y1="120.86" x2="501.70" y2="120.86" stroke="#111" stroke-width="0.7"/>
<line x1="670.80" y1="120.86" x2="672.50" y2="120.86" stroke="#111" stroke-width="0.7"/>
<line x1="500.00" y1="105.88" x2="501.70" y2="105.88" stroke="#111" stroke-width="0.7"/>
<line x1="670.80" y1="105.88" x2="672.50" y2="105.88" stroke="#111" stroke-width="0.7"/>
<line x1="500.00" y1="90.90" x2="501.70" y2="90.90" stroke="#111" stroke-width="0.7"/>
<line x1="670.80" y1="90.90" x2="672.50" y2="90.90" stroke="#111" stroke-width="0.7"/>
<line x1="500.00" y1="75.92" x2="501.70" y2="75.92" stroke="#111" stroke-width="0.7"/>
<line x1="670.80" y1="75.92" x2="672.50" y2="75.92" stroke="#111" stroke-width="0.7"/>
<line x1="500.00" y1="60.94" x2="501.70" y2="60.94" stroke="#111" stroke-width="0.7"/>
<line x1="670.80" y1="60.94" x2="672.50" y2="60.94" stroke="#111" stroke-width="0.7"/>
<line x1="500.00" y1="45.96" x2="501.70" y2="45.96" stroke="#111" stroke-width="0.7"/>
<line x1="670.80" y1="45.96" x2="672.50" y2="45.96" stroke="#111" stroke-width="0.7"/>
<line x1="500.00" y1="30.98" x2="501.70" y2="30.98" stroke="#111" stroke-width="0.7"/>
<line x1="670.80" y1="30.98" x2="672.50" y2="30.98" stroke="#111" stroke-width="0.7"/>
<line x1="500.00" y1="16.00" x2="501.70" y2="16.00" stroke="#111" stroke-width="0.7"/>
<line x1="670.80" y1="16.00" x2="672.50" y2="16.00" stroke="#111" stroke-width="0.7"/>
<line x1="500.00" y1="1.02" x2="501.70" y2="1.02" stroke="#111" stroke-width="0.7"/>
<line x1="670.80" y1="1.02" x2="672.50" y2="1.02" stroke="#111" stroke-width="0.7"/>
<text x="515.80" y="176.5" class="tk" text-anchor="middle">300</text>
<text x="544.90" y="176.5" class="tk" text-anchor="middle">350</text>
<text x="569.30" y="176.5" class="tk" text-anchor="middle">400</text>
<text x="594.30" y="176.5" class="tk" text-anchor="middle">450</text>
<text x="623.20" y="176.5" class="tk" text-anchor="middle">500</text>
<text x="648.40" y="176.5" class="tk" text-anchor="middle">550</text>
<text x="672.50" y="176.5" class="tk" text-anchor="middle">600</text>
<line x1="515.80" y1="0.60" x2="515.80" y2="2.30" stroke="#111" stroke-width="0.7"/>
<line x1="515.80" y1="165.50" x2="515.80" y2="167.20" stroke="#111" stroke-width="0.7"/>
<line x1="541.70" y1="0.60" x2="541.70" y2="2.30" stroke="#111" stroke-width="0.7"/>
<line x1="541.70" y1="165.50" x2="541.70" y2="167.20" stroke="#111" stroke-width="0.7"/>
<line x1="567.60" y1="0.60" x2="567.60" y2="2.30" stroke="#111" stroke-width="0.7"/>
<line x1="567.60" y1="165.50" x2="567.60" y2="167.20" stroke="#111" stroke-width="0.7"/>
<line x1="593.50" y1="0.60" x2="593.50" y2="2.30" stroke="#111" stroke-width="0.7"/>
<line x1="593.50" y1="165.50" x2="593.50" y2="167.20" stroke="#111" stroke-width="0.7"/>
<line x1="619.40" y1="0.60" x2="619.40" y2="2.30" stroke="#111" stroke-width="0.7"/>
<line x1="619.40" y1="165.50" x2="619.40" y2="167.20" stroke="#111" stroke-width="0.7"/>
<line x1="645.30" y1="0.60" x2="645.30" y2="2.30" stroke="#111" stroke-width="0.7"/>
<line x1="645.30" y1="165.50" x2="645.30" y2="167.20" stroke="#111" stroke-width="0.7"/>
<line x1="671.20" y1="0.60" x2="671.20" y2="2.30" stroke="#111" stroke-width="0.7"/>
<line x1="671.20" y1="165.50" x2="671.20" y2="167.20" stroke="#111" stroke-width="0.7"/>
<text class="lab" x="593.70" y="189.5" text-anchor="middle">Em (nm)</text>
<text class="lab" transform="translate(478.60,85.2) rotate(-90)" text-anchor="middle">Ex (nm)</text>
<text class="ttl" x="513.80" y="23.20" font-weight="bold" font-size="12.0" letter-spacing="-0.30">(<tspan font-size="14.0">c</tspan>)</text>
<text class="ttl2" x="537.80" y="23.9" textLength="15.3" lengthAdjust="spacingAndGlyphs" stroke="#111" stroke-width="0.35">C3</text>
<line x1="34.10" y1="356.40" x2="34.10" y2="358.90" stroke="#8a8a8a" stroke-width="1"/>
<line x1="58.47" y1="356.40" x2="58.47" y2="358.90" stroke="#8a8a8a" stroke-width="1"/>
<line x1="82.84" y1="356.40" x2="82.84" y2="358.90" stroke="#8a8a8a" stroke-width="1"/>
<line x1="107.21" y1="356.40" x2="107.21" y2="358.90" stroke="#8a8a8a" stroke-width="1"/>
<line x1="131.58" y1="356.40" x2="131.58" y2="358.90" stroke="#8a8a8a" stroke-width="1"/>
<line x1="155.95" y1="356.40" x2="155.95" y2="358.90" stroke="#8a8a8a" stroke-width="1"/>
<line x1="180.32" y1="356.40" x2="180.32" y2="358.90" stroke="#8a8a8a" stroke-width="1"/>
<line x1="204.69" y1="356.40" x2="204.69" y2="358.90" stroke="#8a8a8a" stroke-width="1"/>
<line x1="34.10" y1="241.28" x2="36.90" y2="241.28" stroke="#8a8a8a" stroke-width="1"/>
<line x1="34.10" y1="270.06" x2="36.90" y2="270.06" stroke="#8a8a8a" stroke-width="1"/>
<line x1="34.10" y1="298.84" x2="36.90" y2="298.84" stroke="#8a8a8a" stroke-width="1"/>
<line x1="34.10" y1="327.62" x2="36.90" y2="327.62" stroke="#8a8a8a" stroke-width="1"/>
<rect x="34.10" y="212.50" width="170.90" height="143.90" fill="none" stroke="#8a8a8a" stroke-width="1.3"/>
<text x="29.50" y="216.30" class="tk2" text-anchor="end">0.50</text>
<text x="29.50" y="245.08" class="tk2" text-anchor="end">0.40</text>
<text x="29.50" y="273.86" class="tk2" text-anchor="end">0.30</text>
<text x="29.50" y="302.64" class="tk2" text-anchor="end">0.20</text>
<text x="29.50" y="331.42" class="tk2" text-anchor="end">0.10</text>
<text x="29.50" y="360.20" class="tk2" text-anchor="end">0.00</text>
<text x="34.10" y="371.30" class="tk2" text-anchor="middle">250</text>
<text x="58.47" y="371.30" class="tk2" text-anchor="middle">300</text>
<text x="82.84" y="371.30" class="tk2" text-anchor="middle">350</text>
<text x="107.21" y="371.30" class="tk2" text-anchor="middle">400</text>
<text x="131.58" y="371.30" class="tk2" text-anchor="middle">450</text>
<text x="155.95" y="371.30" class="tk2" text-anchor="middle">500</text>
<text x="180.32" y="371.30" class="tk2" text-anchor="middle">550</text>
<text x="204.69" y="371.30" class="tk2" text-anchor="middle">600</text>
<text class="lab2" transform="translate(7.80,288.50) rotate(-90)" text-anchor="middle">loading</text>
<text class="lab2" x="119.30" y="388.00" text-anchor="middle">wavelength (nm)</text>
<text class="ttl" x="49.70" y="231.30" font-weight="bold" font-size="12.6" letter-spacing="-0.20">(d)</text>
<path d="M43.40,214.20 C43.58,216.83 44.12,224.03 44.50,230.00 C44.88,235.97 45.50,245.00 45.70,250.00 C45.90,255.00 45.57,256.28 45.70,260.00 C45.83,263.72 46.12,268.20 46.50,272.30 C46.88,276.40 47.37,281.40 48.00,284.60 C48.63,287.80 49.53,289.72 50.30,291.50 C51.07,293.28 51.70,295.05 52.60,295.30 C53.50,295.55 54.53,294.67 55.70,293.00 C56.87,291.33 58.45,287.35 59.60,285.30 C60.75,283.25 61.72,281.58 62.60,280.70 C63.48,279.82 64.13,279.62 64.90,280.00 C65.67,280.38 66.43,281.22 67.20,283.00 C67.97,284.78 68.60,287.37 69.50,290.70 C70.40,294.03 71.57,299.13 72.60,303.00 C73.63,306.87 74.55,310.23 75.70,313.90 C76.85,317.57 78.10,321.62 79.50,325.00 C80.90,328.38 82.70,330.88 84.10,334.20 C85.50,337.52 86.88,341.93 87.90,344.90 C88.92,347.87 89.60,350.13 90.20,352.00 C90.80,353.87 86.53,355.42 91.50,356.10 C96.47,356.78 101.08,356.10 120.00,356.10 C138.92,356.10 190.83,356.10 205.00,356.10" fill="none" stroke="#14b0ee" stroke-width="1.8"/>
<path d="M43.40,214.20 C43.58,216.83 44.12,224.03 44.50,230.00 C44.88,235.97 45.50,245.00 45.70,250.00 C45.90,255.00 45.57,256.28 45.70,260.00 C45.83,263.72 46.12,268.20 46.50,272.30 C46.88,276.40 47.37,281.40 48.00,284.60 C48.63,287.80 49.53,289.72 50.30,291.50 C51.07,293.28 51.70,295.05 52.60,295.30 C53.50,295.55 54.53,294.67 55.70,293.00 C56.87,291.33 58.45,287.35 59.60,285.30 C60.75,283.25 61.72,281.58 62.60,280.70 C63.48,279.82 64.13,279.62 64.90,280.00 C65.67,280.38 66.43,281.22 67.20,283.00 C67.97,284.78 68.60,287.37 69.50,290.70 C70.40,294.03 71.57,299.13 72.60,303.00 C73.63,306.87 74.55,310.23 75.70,313.90 C76.85,317.57 78.10,321.62 79.50,325.00 C80.90,328.38 82.70,330.88 84.10,334.20 C85.50,337.52 86.88,341.93 87.90,344.90 C88.92,347.87 89.60,350.13 90.20,352.00 C90.80,353.87 86.53,355.42 91.50,356.10 C96.47,356.78 101.08,356.10 120.00,356.10 C138.92,356.10 190.83,356.10 205.00,356.10" fill="none" stroke="#f01818" stroke-width="1.4" stroke-dasharray="2.4,3.0"/>
<path d="M43.40,356.10 C44.05,355.90 45.88,355.75 47.30,354.90 C48.72,354.05 50.37,352.67 51.90,351.00 C53.43,349.33 55.10,346.68 56.50,344.90 C57.90,343.12 59.02,341.53 60.30,340.30 C61.58,339.07 63.05,338.13 64.20,337.50 C65.35,336.87 66.18,337.43 67.20,336.50 C68.22,335.57 69.27,334.08 70.30,331.90 C71.33,329.72 72.50,326.10 73.40,323.40 C74.30,320.70 74.93,318.00 75.70,315.70 C76.47,313.40 77.12,311.63 78.00,309.60 C78.88,307.57 79.73,305.07 81.00,303.50 C82.27,301.93 84.07,300.93 85.60,300.20 C87.13,299.47 88.45,299.35 90.20,299.10 C91.95,298.85 94.08,299.07 96.10,298.70 C98.12,298.33 100.77,297.72 102.30,296.90 C103.83,296.08 104.28,294.57 105.30,293.80 C106.32,293.03 107.12,292.43 108.40,292.30 C109.68,292.17 111.47,292.37 113.00,293.00 C114.53,293.63 116.07,294.57 117.60,296.10 C119.13,297.63 120.67,300.02 122.20,302.20 C123.73,304.38 125.27,307.02 126.80,309.20 C128.33,311.38 129.87,313.00 131.40,315.30 C132.93,317.60 134.47,320.70 136.00,323.00 C137.53,325.30 139.07,327.18 140.60,329.10 C142.13,331.02 143.77,332.95 145.20,334.50 C146.63,336.05 147.77,337.23 149.20,338.40 C150.63,339.57 152.65,340.73 153.80,341.50 C154.95,342.27 155.58,341.85 156.10,343.00 C156.62,344.15 156.65,346.73 156.90,348.40 C157.15,350.07 157.08,352.03 157.60,353.00 C158.12,353.97 158.97,353.70 160.00,354.20 C161.03,354.70 161.30,355.68 163.80,356.00 C166.30,356.32 168.13,356.08 175.00,356.10 C181.87,356.12 200.00,356.10 205.00,356.10" fill="none" stroke="#f01818" stroke-width="1.5" stroke-dasharray="2.6,2.8" transform="translate(0.75,0.35)"/>
<path d="M43.40,356.10 C44.05,355.90 45.88,355.75 47.30,354.90 C48.72,354.05 50.37,352.67 51.90,351.00 C53.43,349.33 55.10,346.68 56.50,344.90 C57.90,343.12 59.02,341.53 60.30,340.30 C61.58,339.07 63.05,338.13 64.20,337.50 C65.35,336.87 66.18,337.43 67.20,336.50 C68.22,335.57 69.27,334.08 70.30,331.90 C71.33,329.72 72.50,326.10 73.40,323.40 C74.30,320.70 74.93,318.00 75.70,315.70 C76.47,313.40 77.12,311.63 78.00,309.60 C78.88,307.57 79.73,305.07 81.00,303.50 C82.27,301.93 84.07,300.93 85.60,300.20 C87.13,299.47 88.45,299.35 90.20,299.10 C91.95,298.85 94.08,299.07 96.10,298.70 C98.12,298.33 100.77,297.72 102.30,296.90 C103.83,296.08 104.28,294.57 105.30,293.80 C106.32,293.03 107.12,292.43 108.40,292.30 C109.68,292.17 111.47,292.37 113.00,293.00 C114.53,293.63 116.07,294.57 117.60,296.10 C119.13,297.63 120.67,300.02 122.20,302.20 C123.73,304.38 125.27,307.02 126.80,309.20 C128.33,311.38 129.87,313.00 131.40,315.30 C132.93,317.60 134.47,320.70 136.00,323.00 C137.53,325.30 139.07,327.18 140.60,329.10 C142.13,331.02 143.77,332.95 145.20,334.50 C146.63,336.05 147.77,337.23 149.20,338.40 C150.63,339.57 152.65,340.73 153.80,341.50 C154.95,342.27 155.58,341.85 156.10,343.00 C156.62,344.15 156.65,346.73 156.90,348.40 C157.15,350.07 157.08,352.03 157.60,353.00 C158.12,353.97 158.97,353.70 160.00,354.20 C161.03,354.70 161.30,355.68 163.80,356.00 C166.30,356.32 168.13,356.08 175.00,356.10 C181.87,356.12 200.00,356.10 205.00,356.10" fill="none" stroke="#14b0ee" stroke-width="1.7"/>
<path d="M43.40,356.10 C44.05,355.90 45.88,355.75 47.30,354.90 C48.72,354.05 50.37,352.67 51.90,351.00 C53.43,349.33 55.10,346.68 56.50,344.90 C57.90,343.12 59.02,341.53 60.30,340.30 C61.58,339.07 63.05,338.13 64.20,337.50 C65.35,336.87 66.18,337.43 67.20,336.50 C68.22,335.57 69.27,334.08 70.30,331.90 C71.33,329.72 72.50,326.10 73.40,323.40 C74.30,320.70 74.93,318.00 75.70,315.70 C76.47,313.40 77.12,311.63 78.00,309.60 C78.88,307.57 79.73,305.07 81.00,303.50 C82.27,301.93 84.07,300.93 85.60,300.20 C87.13,299.47 88.45,299.35 90.20,299.10 C91.95,298.85 94.08,299.07 96.10,298.70 C98.12,298.33 100.77,297.72 102.30,296.90 C103.83,296.08 104.28,294.57 105.30,293.80 C106.32,293.03 107.12,292.43 108.40,292.30 C109.68,292.17 111.47,292.37 113.00,293.00 C114.53,293.63 116.07,294.57 117.60,296.10 C119.13,297.63 120.67,300.02 122.20,302.20 C123.73,304.38 125.27,307.02 126.80,309.20 C128.33,311.38 129.87,313.00 131.40,315.30 C132.93,317.60 134.47,320.70 136.00,323.00 C137.53,325.30 139.07,327.18 140.60,329.10 C142.13,331.02 143.77,332.95 145.20,334.50 C146.63,336.05 147.77,337.23 149.20,338.40 C150.63,339.57 152.65,340.73 153.80,341.50 C154.95,342.27 155.58,341.85 156.10,343.00 C156.62,344.15 156.65,346.73 156.90,348.40 C157.15,350.07 157.08,352.03 157.60,353.00 C158.12,353.97 158.97,353.70 160.00,354.20 C161.03,354.70 161.30,355.68 163.80,356.00 C166.30,356.32 168.13,356.08 175.00,356.10 C181.87,356.12 200.00,356.10 205.00,356.10" fill="none" stroke="#111" stroke-width="1.25" stroke-dasharray="2.4,3.4" stroke-dashoffset="1"/>
<line x1="274.30" y1="354.40" x2="274.30" y2="356.90" stroke="#8a8a8a" stroke-width="1"/>
<line x1="298.47" y1="354.40" x2="298.47" y2="356.90" stroke="#8a8a8a" stroke-width="1"/>
<line x1="322.64" y1="354.40" x2="322.64" y2="356.90" stroke="#8a8a8a" stroke-width="1"/>
<line x1="346.81" y1="354.40" x2="346.81" y2="356.90" stroke="#8a8a8a" stroke-width="1"/>
<line x1="370.98" y1="354.40" x2="370.98" y2="356.90" stroke="#8a8a8a" stroke-width="1"/>
<line x1="395.15" y1="354.40" x2="395.15" y2="356.90" stroke="#8a8a8a" stroke-width="1"/>
<line x1="419.32" y1="354.40" x2="419.32" y2="356.90" stroke="#8a8a8a" stroke-width="1"/>
<line x1="443.49" y1="354.40" x2="443.49" y2="356.90" stroke="#8a8a8a" stroke-width="1"/>
<line x1="271.50" y1="215.30" x2="274.30" y2="215.30" stroke="#8a8a8a" stroke-width="1"/>
<line x1="271.50" y1="243.12" x2="274.30" y2="243.12" stroke="#8a8a8a" stroke-width="1"/>
<line x1="271.50" y1="270.94" x2="274.30" y2="270.94" stroke="#8a8a8a" stroke-width="1"/>
<line x1="271.50" y1="298.76" x2="274.30" y2="298.76" stroke="#8a8a8a" stroke-width="1"/>
<line x1="271.50" y1="326.58" x2="274.30" y2="326.58" stroke="#8a8a8a" stroke-width="1"/>
<line x1="271.50" y1="354.40" x2="274.30" y2="354.40" stroke="#8a8a8a" stroke-width="1"/>
<rect x="274.30" y="215.30" width="169.20" height="139.10" fill="none" stroke="#8a8a8a" stroke-width="1.3"/>
<text x="268.30" y="219.10" class="tk2" text-anchor="end">0.50</text>
<text x="268.30" y="246.92" class="tk2" text-anchor="end">0.40</text>
<text x="268.30" y="274.74" class="tk2" text-anchor="end">0.30</text>
<text x="268.30" y="302.56" class="tk2" text-anchor="end">0.20</text>
<text x="268.30" y="330.38" class="tk2" text-anchor="end">0.10</text>
<text x="268.30" y="358.20" class="tk2" text-anchor="end">0.00</text>
<text x="274.30" y="368.60" class="tk2" text-anchor="middle">250</text>
<text x="298.47" y="368.60" class="tk2" text-anchor="middle">300</text>
<text x="322.64" y="368.60" class="tk2" text-anchor="middle">350</text>
<text x="346.81" y="368.60" class="tk2" text-anchor="middle">400</text>
<text x="370.98" y="368.60" class="tk2" text-anchor="middle">450</text>
<text x="395.15" y="368.60" class="tk2" text-anchor="middle">500</text>
<text x="419.32" y="368.60" class="tk2" text-anchor="middle">550</text>
<text x="443.49" y="368.60" class="tk2" text-anchor="middle">600</text>
<text class="lab2" transform="translate(242.90,285.60) rotate(-90)" text-anchor="middle">loading</text>
<text class="lab2" x="359.20" y="385.10" text-anchor="middle">wavelength (nm)</text>
<text class="ttl" x="282.70" y="232.60" font-weight="normal" font-size="13.2" letter-spacing="0.00" stroke="#111" stroke-width="0.55">(e)</text>
<path d="M283.40,354.00 C283.55,350.80 283.90,341.58 284.30,334.80 C284.70,328.02 285.35,317.78 285.80,313.30 C286.25,308.82 286.50,308.65 287.00,307.90 C287.50,307.15 288.20,307.30 288.80,308.80 C289.40,310.30 289.85,313.17 290.60,316.90 C291.35,320.63 292.25,326.13 293.30,331.20 C294.35,336.27 295.85,343.57 296.90,347.30 C297.95,351.03 298.12,352.52 299.60,353.60 C301.08,354.68 304.32,354.55 305.80,353.80 C307.28,353.05 307.45,352.87 308.50,349.10 C309.55,345.33 310.75,337.17 312.10,331.20 C313.45,325.23 315.12,319.27 316.60,313.30 C318.08,307.33 319.67,300.72 321.00,295.40 C322.33,290.08 323.37,286.15 324.60,281.40 C325.83,276.65 327.38,270.73 328.40,266.90 C329.42,263.07 330.10,260.20 330.70,258.40 C331.30,256.60 331.48,255.83 332.00,256.10 C332.52,256.37 332.98,257.57 333.80,260.00 C334.62,262.43 335.87,266.87 336.90,270.70 C337.93,274.53 338.93,278.00 340.00,283.00 C341.07,288.00 342.00,295.95 343.30,300.70 C344.60,305.45 346.32,307.92 347.80,311.50 C349.28,315.08 350.87,318.62 352.20,322.20 C353.53,325.78 354.75,329.42 355.80,333.00 C356.85,336.58 357.60,340.42 358.50,343.70 C359.40,346.98 360.45,350.97 361.20,352.70 C361.95,354.43 356.53,353.85 363.00,354.10 C369.47,354.35 386.58,354.18 400.00,354.20 C413.42,354.22 436.25,354.20 443.50,354.20" fill="none" stroke="#f01818" stroke-width="1.5" stroke-dasharray="2.6,2.8" transform="translate(0.75,0.35)"/>
<path d="M283.40,354.00 C283.55,350.80 283.90,341.58 284.30,334.80 C284.70,328.02 285.35,317.78 285.80,313.30 C286.25,308.82 286.50,308.65 287.00,307.90 C287.50,307.15 288.20,307.30 288.80,308.80 C289.40,310.30 289.85,313.17 290.60,316.90 C291.35,320.63 292.25,326.13 293.30,331.20 C294.35,336.27 295.85,343.57 296.90,347.30 C297.95,351.03 298.12,352.52 299.60,353.60 C301.08,354.68 304.32,354.55 305.80,353.80 C307.28,353.05 307.45,352.87 308.50,349.10 C309.55,345.33 310.75,337.17 312.10,331.20 C313.45,325.23 315.12,319.27 316.60,313.30 C318.08,307.33 319.67,300.72 321.00,295.40 C322.33,290.08 323.37,286.15 324.60,281.40 C325.83,276.65 327.38,270.73 328.40,266.90 C329.42,263.07 330.10,260.20 330.70,258.40 C331.30,256.60 331.48,255.83 332.00,256.10 C332.52,256.37 332.98,257.57 333.80,260.00 C334.62,262.43 335.87,266.87 336.90,270.70 C337.93,274.53 338.93,278.00 340.00,283.00 C341.07,288.00 342.00,295.95 343.30,300.70 C344.60,305.45 346.32,307.92 347.80,311.50 C349.28,315.08 350.87,318.62 352.20,322.20 C353.53,325.78 354.75,329.42 355.80,333.00 C356.85,336.58 357.60,340.42 358.50,343.70 C359.40,346.98 360.45,350.97 361.20,352.70 C361.95,354.43 356.53,353.85 363.00,354.10 C369.47,354.35 386.58,354.18 400.00,354.20 C413.42,354.22 436.25,354.20 443.50,354.20" fill="none" stroke="#14b0ee" stroke-width="1.7"/>
<path d="M283.40,354.00 C283.55,350.80 283.90,341.58 284.30,334.80 C284.70,328.02 285.35,317.78 285.80,313.30 C286.25,308.82 286.50,308.65 287.00,307.90 C287.50,307.15 288.20,307.30 288.80,308.80 C289.40,310.30 289.85,313.17 290.60,316.90 C291.35,320.63 292.25,326.13 293.30,331.20 C294.35,336.27 295.85,343.57 296.90,347.30 C297.95,351.03 298.12,352.52 299.60,353.60 C301.08,354.68 304.32,354.55 305.80,353.80 C307.28,353.05 307.45,352.87 308.50,349.10 C309.55,345.33 310.75,337.17 312.10,331.20 C313.45,325.23 315.12,319.27 316.60,313.30 C318.08,307.33 319.67,300.72 321.00,295.40 C322.33,290.08 323.37,286.15 324.60,281.40 C325.83,276.65 327.38,270.73 328.40,266.90 C329.42,263.07 330.10,260.20 330.70,258.40 C331.30,256.60 331.48,255.83 332.00,256.10 C332.52,256.37 332.98,257.57 333.80,260.00 C334.62,262.43 335.87,266.87 336.90,270.70 C337.93,274.53 338.93,278.00 340.00,283.00 C341.07,288.00 342.00,295.95 343.30,300.70 C344.60,305.45 346.32,307.92 347.80,311.50 C349.28,315.08 350.87,318.62 352.20,322.20 C353.53,325.78 354.75,329.42 355.80,333.00 C356.85,336.58 357.60,340.42 358.50,343.70 C359.40,346.98 360.45,350.97 361.20,352.70 C361.95,354.43 356.53,353.85 363.00,354.10 C369.47,354.35 386.58,354.18 400.00,354.20 C413.42,354.22 436.25,354.20 443.50,354.20" fill="none" stroke="#111" stroke-width="1.25" stroke-dasharray="2.4,3.4" stroke-dashoffset="1"/>
<path d="M323.70,353.50 C323.83,353.07 323.92,352.83 324.50,350.90 C325.08,348.97 326.17,344.88 327.20,341.90 C328.23,338.92 329.22,336.28 330.70,333.00 C332.18,329.72 334.45,325.78 336.10,322.20 C337.75,318.62 339.40,314.78 340.60,311.50 C341.80,308.22 342.13,305.98 343.30,302.50 C344.47,299.02 346.12,293.73 347.60,290.60 C349.08,287.47 350.40,285.62 352.20,283.70 C354.00,281.78 356.60,279.48 358.40,279.10 C360.20,278.72 361.47,280.25 363.00,281.40 C364.53,282.55 366.07,284.20 367.60,286.00 C369.13,287.80 370.97,290.12 372.20,292.20 C373.43,294.28 373.87,295.47 375.00,298.50 C376.13,301.53 377.45,306.92 379.00,310.40 C380.55,313.88 382.52,316.40 384.30,319.40 C386.08,322.40 387.90,325.87 389.70,328.40 C391.50,330.93 393.32,332.82 395.10,334.60 C396.88,336.38 398.62,337.60 400.40,339.10 C402.18,340.60 403.70,342.35 405.80,343.60 C407.90,344.85 410.60,345.80 413.00,346.60 C415.40,347.40 417.83,347.63 420.20,348.40 C422.57,349.17 424.22,350.43 427.20,351.20 C430.18,351.97 435.38,352.58 438.10,353.00 C440.82,353.42 442.60,353.58 443.50,353.70" fill="none" stroke="#f01818" stroke-width="1.5" stroke-dasharray="2.6,2.8" transform="translate(0.75,0.35)"/>
<path d="M323.70,353.50 C323.83,353.07 323.92,352.83 324.50,350.90 C325.08,348.97 326.17,344.88 327.20,341.90 C328.23,338.92 329.22,336.28 330.70,333.00 C332.18,329.72 334.45,325.78 336.10,322.20 C337.75,318.62 339.40,314.78 340.60,311.50 C341.80,308.22 342.13,305.98 343.30,302.50 C344.47,299.02 346.12,293.73 347.60,290.60 C349.08,287.47 350.40,285.62 352.20,283.70 C354.00,281.78 356.60,279.48 358.40,279.10 C360.20,278.72 361.47,280.25 363.00,281.40 C364.53,282.55 366.07,284.20 367.60,286.00 C369.13,287.80 370.97,290.12 372.20,292.20 C373.43,294.28 373.87,295.47 375.00,298.50 C376.13,301.53 377.45,306.92 379.00,310.40 C380.55,313.88 382.52,316.40 384.30,319.40 C386.08,322.40 387.90,325.87 389.70,328.40 C391.50,330.93 393.32,332.82 395.10,334.60 C396.88,336.38 398.62,337.60 400.40,339.10 C402.18,340.60 403.70,342.35 405.80,343.60 C407.90,344.85 410.60,345.80 413.00,346.60 C415.40,347.40 417.83,347.63 420.20,348.40 C422.57,349.17 424.22,350.43 427.20,351.20 C430.18,351.97 435.38,352.58 438.10,353.00 C440.82,353.42 442.60,353.58 443.50,353.70" fill="none" stroke="#14b0ee" stroke-width="1.7"/>
<path d="M323.70,353.50 C323.83,353.07 323.92,352.83 324.50,350.90 C325.08,348.97 326.17,344.88 327.20,341.90 C328.23,338.92 329.22,336.28 330.70,333.00 C332.18,329.72 334.45,325.78 336.10,322.20 C337.75,318.62 339.40,314.78 340.60,311.50 C341.80,308.22 342.13,305.98 343.30,302.50 C344.47,299.02 346.12,293.73 347.60,290.60 C349.08,287.47 350.40,285.62 352.20,283.70 C354.00,281.78 356.60,279.48 358.40,279.10 C360.20,278.72 361.47,280.25 363.00,281.40 C364.53,282.55 366.07,284.20 367.60,286.00 C369.13,287.80 370.97,290.12 372.20,292.20 C373.43,294.28 373.87,295.47 375.00,298.50 C376.13,301.53 377.45,306.92 379.00,310.40 C380.55,313.88 382.52,316.40 384.30,319.40 C386.08,322.40 387.90,325.87 389.70,328.40 C391.50,330.93 393.32,332.82 395.10,334.60 C396.88,336.38 398.62,337.60 400.40,339.10 C402.18,340.60 403.70,342.35 405.80,343.60 C407.90,344.85 410.60,345.80 413.00,346.60 C415.40,347.40 417.83,347.63 420.20,348.40 C422.57,349.17 424.22,350.43 427.20,351.20 C430.18,351.97 435.38,352.58 438.10,353.00 C440.82,353.42 442.60,353.58 443.50,353.70" fill="none" stroke="#111" stroke-width="1.25" stroke-dasharray="2.4,3.4" stroke-dashoffset="1"/>
<line x1="283.5" y1="354.1" x2="323.5" y2="354.1" stroke="#14b0ee" stroke-width="1.4" stroke-dasharray="3,1.5"/>
<line x1="283.5" y1="354.1" x2="323.5" y2="354.1" stroke="#f01818" stroke-width="1.0" stroke-dasharray="1.5,4" stroke-dashoffset="2"/>
<line x1="509.00" y1="354.20" x2="509.00" y2="356.70" stroke="#8a8a8a" stroke-width="1"/>
<line x1="533.17" y1="354.20" x2="533.17" y2="356.70" stroke="#8a8a8a" stroke-width="1"/>
<line x1="557.34" y1="354.20" x2="557.34" y2="356.70" stroke="#8a8a8a" stroke-width="1"/>
<line x1="581.51" y1="354.20" x2="581.51" y2="356.70" stroke="#8a8a8a" stroke-width="1"/>
<line x1="605.68" y1="354.20" x2="605.68" y2="356.70" stroke="#8a8a8a" stroke-width="1"/>
<line x1="629.85" y1="354.20" x2="629.85" y2="356.70" stroke="#8a8a8a" stroke-width="1"/>
<line x1="654.02" y1="354.20" x2="654.02" y2="356.70" stroke="#8a8a8a" stroke-width="1"/>
<line x1="678.19" y1="354.20" x2="678.19" y2="356.70" stroke="#8a8a8a" stroke-width="1"/>
<line x1="506.00" y1="215.30" x2="508.80" y2="215.30" stroke="#8a8a8a" stroke-width="1"/>
<line x1="506.00" y1="243.08" x2="508.80" y2="243.08" stroke="#8a8a8a" stroke-width="1"/>
<line x1="506.00" y1="270.86" x2="508.80" y2="270.86" stroke="#8a8a8a" stroke-width="1"/>
<line x1="506.00" y1="298.64" x2="508.80" y2="298.64" stroke="#8a8a8a" stroke-width="1"/>
<line x1="506.00" y1="326.42" x2="508.80" y2="326.42" stroke="#8a8a8a" stroke-width="1"/>
<line x1="506.00" y1="354.20" x2="508.80" y2="354.20" stroke="#8a8a8a" stroke-width="1"/>
<rect x="508.80" y="215.30" width="169.50" height="138.90" fill="none" stroke="#8a8a8a" stroke-width="1.3"/>
<text x="502.80" y="219.10" class="tk2" text-anchor="end">0.50</text>
<text x="502.80" y="246.88" class="tk2" text-anchor="end">0.40</text>
<text x="502.80" y="274.66" class="tk2" text-anchor="end">0.30</text>
<text x="502.80" y="302.44" class="tk2" text-anchor="end">0.20</text>
<text x="502.80" y="330.22" class="tk2" text-anchor="end">0.10</text>
<text x="502.80" y="358.00" class="tk2" text-anchor="end">0.00</text>
<text x="509.00" y="368.60" class="tk2" text-anchor="middle">250</text>
<text x="533.17" y="368.60" class="tk2" text-anchor="middle">300</text>
<text x="557.34" y="368.60" class="tk2" text-anchor="middle">350</text>
<text x="581.51" y="368.60" class="tk2" text-anchor="middle">400</text>
<text x="605.68" y="368.60" class="tk2" text-anchor="middle">450</text>
<text x="629.85" y="368.60" class="tk2" text-anchor="middle">500</text>
<text x="654.02" y="368.60" class="tk2" text-anchor="middle">550</text>
<text x="678.19" y="368.60" class="tk2" text-anchor="middle">600</text>
<text class="lab2" transform="translate(476.80,285.60) rotate(-90)" text-anchor="middle">loading</text>
<text class="lab2" x="594.20" y="385.10" text-anchor="middle">wavelength (nm)</text>
<text class="ttl" x="518.80" y="232.60" font-weight="bold" font-size="12.6" letter-spacing="-0.20">(f)</text>
<path d="M518.60,306.60 C518.95,304.20 519.90,296.68 520.70,292.20 C521.50,287.72 522.55,282.68 523.40,279.70 C524.25,276.72 525.05,274.90 525.80,274.30 C526.55,273.70 527.10,275.05 527.90,276.10 C528.70,277.15 529.70,279.55 530.60,280.60 C531.50,281.65 532.40,280.90 533.30,282.40 C534.20,283.90 535.10,286.77 536.00,289.60 C536.90,292.43 537.82,295.68 538.70,299.40 C539.58,303.12 540.42,308.02 541.30,311.90 C542.18,315.78 543.18,318.93 544.00,322.70 C544.82,326.47 545.23,331.32 546.20,334.50 C547.17,337.68 548.43,340.28 549.80,341.80 C551.17,343.32 552.93,343.43 554.40,343.60 C555.87,343.77 557.00,343.67 558.60,342.80 C560.20,341.93 562.37,340.33 564.00,338.40 C565.63,336.47 567.07,334.05 568.40,331.20 C569.73,328.35 570.80,324.13 572.00,321.30 C573.20,318.47 574.25,315.98 575.60,314.20 C576.95,312.42 578.60,311.80 580.10,310.60 C581.60,309.40 583.27,308.35 584.60,307.00 C585.93,305.65 587.07,303.68 588.10,302.50 C589.13,301.32 589.90,300.05 590.80,299.90 C591.70,299.75 592.45,300.27 593.50,301.60 C594.55,302.93 595.90,305.05 597.10,307.90 C598.30,310.75 599.65,315.57 600.70,318.70 C601.75,321.83 602.22,324.32 603.40,326.70 C604.58,329.08 606.32,331.20 607.80,333.00 C609.28,334.80 611.10,336.30 612.30,337.50 C613.50,338.70 613.72,339.03 615.00,340.20 C616.28,341.37 618.27,343.40 620.00,344.50 C621.73,345.60 624.50,346.42 625.40,346.80" fill="none" stroke="#f01818" stroke-width="1.5" stroke-dasharray="2.6,2.8" transform="translate(0.75,0.35)"/>
<path d="M518.60,306.60 C518.95,304.20 519.90,296.68 520.70,292.20 C521.50,287.72 522.55,282.68 523.40,279.70 C524.25,276.72 525.05,274.90 525.80,274.30 C526.55,273.70 527.10,275.05 527.90,276.10 C528.70,277.15 529.70,279.55 530.60,280.60 C531.50,281.65 532.40,280.90 533.30,282.40 C534.20,283.90 535.10,286.77 536.00,289.60 C536.90,292.43 537.82,295.68 538.70,299.40 C539.58,303.12 540.42,308.02 541.30,311.90 C542.18,315.78 543.18,318.93 544.00,322.70 C544.82,326.47 545.23,331.32 546.20,334.50 C547.17,337.68 548.43,340.28 549.80,341.80 C551.17,343.32 552.93,343.43 554.40,343.60 C555.87,343.77 557.00,343.67 558.60,342.80 C560.20,341.93 562.37,340.33 564.00,338.40 C565.63,336.47 567.07,334.05 568.40,331.20 C569.73,328.35 570.80,324.13 572.00,321.30 C573.20,318.47 574.25,315.98 575.60,314.20 C576.95,312.42 578.60,311.80 580.10,310.60 C581.60,309.40 583.27,308.35 584.60,307.00 C585.93,305.65 587.07,303.68 588.10,302.50 C589.13,301.32 589.90,300.05 590.80,299.90 C591.70,299.75 592.45,300.27 593.50,301.60 C594.55,302.93 595.90,305.05 597.10,307.90 C598.30,310.75 599.65,315.57 600.70,318.70 C601.75,321.83 602.22,324.32 603.40,326.70 C604.58,329.08 606.32,331.20 607.80,333.00 C609.28,334.80 611.10,336.30 612.30,337.50 C613.50,338.70 613.72,339.03 615.00,340.20 C616.28,341.37 618.27,343.40 620.00,344.50 C621.73,345.60 624.50,346.42 625.40,346.80" fill="none" stroke="#14b0ee" stroke-width="1.7"/>
<path d="M518.60,306.60 C518.95,304.20 519.90,296.68 520.70,292.20 C521.50,287.72 522.55,282.68 523.40,279.70 C524.25,276.72 525.05,274.90 525.80,274.30 C526.55,273.70 527.10,275.05 527.90,276.10 C528.70,277.15 529.70,279.55 530.60,280.60 C531.50,281.65 532.40,280.90 533.30,282.40 C534.20,283.90 535.10,286.77 536.00,289.60 C536.90,292.43 537.82,295.68 538.70,299.40 C539.58,303.12 540.42,308.02 541.30,311.90 C542.18,315.78 543.18,318.93 544.00,322.70 C544.82,326.47 545.23,331.32 546.20,334.50 C547.17,337.68 548.43,340.28 549.80,341.80 C551.17,343.32 552.93,343.43 554.40,343.60 C555.87,343.77 557.00,343.67 558.60,342.80 C560.20,341.93 562.37,340.33 564.00,338.40 C565.63,336.47 567.07,334.05 568.40,331.20 C569.73,328.35 570.80,324.13 572.00,321.30 C573.20,318.47 574.25,315.98 575.60,314.20 C576.95,312.42 578.60,311.80 580.10,310.60 C581.60,309.40 583.27,308.35 584.60,307.00 C585.93,305.65 587.07,303.68 588.10,302.50 C589.13,301.32 589.90,300.05 590.80,299.90 C591.70,299.75 592.45,300.27 593.50,301.60 C594.55,302.93 595.90,305.05 597.10,307.90 C598.30,310.75 599.65,315.57 600.70,318.70 C601.75,321.83 602.22,324.32 603.40,326.70 C604.58,329.08 606.32,331.20 607.80,333.00 C609.28,334.80 611.10,336.30 612.30,337.50 C613.50,338.70 613.72,339.03 615.00,340.20 C616.28,341.37 618.27,343.40 620.00,344.50 C621.73,345.60 624.50,346.42 625.40,346.80" fill="none" stroke="#111" stroke-width="1.25" stroke-dasharray="2.4,3.4" stroke-dashoffset="1"/>
<path d="M581.90,353.80 C582.35,352.12 583.72,346.87 584.60,343.70 C585.48,340.53 586.32,337.78 587.20,334.80 C588.08,331.82 589.00,328.78 589.90,325.80 C590.80,322.82 591.70,319.88 592.60,316.90 C593.50,313.92 594.30,311.12 595.30,307.90 C596.30,304.68 597.45,300.80 598.60,297.60 C599.75,294.40 600.87,291.38 602.20,288.70 C603.53,286.02 605.12,283.00 606.60,281.50 C608.08,280.00 609.75,280.15 611.10,279.70 C612.45,279.25 613.35,278.20 614.70,278.80 C616.05,279.40 617.85,281.37 619.20,283.30 C620.55,285.23 621.62,288.02 622.80,290.40 C623.98,292.78 625.12,295.50 626.30,297.60 C627.48,299.70 628.70,301.65 629.90,303.00 C631.10,304.35 632.30,303.92 633.50,305.70 C634.70,307.48 636.03,311.45 637.10,313.70 C638.17,315.95 639.17,317.00 639.90,319.20 C640.63,321.40 640.85,325.12 641.50,326.90 C642.15,328.68 643.03,328.37 643.80,329.90 C644.57,331.43 645.22,334.43 646.10,336.10 C646.98,337.77 648.08,338.37 649.10,339.90 C650.12,341.43 650.92,343.58 652.20,345.30 C653.48,347.02 655.02,348.98 656.80,350.20 C658.58,351.42 660.60,352.05 662.90,352.60 C665.20,353.15 668.08,353.27 670.60,353.50 C673.12,353.73 676.77,353.92 678.00,354.00" fill="none" stroke="#f01818" stroke-width="1.5" stroke-dasharray="2.6,2.8" transform="translate(0.75,0.35)"/>
<path d="M581.90,353.80 C582.35,352.12 583.72,346.87 584.60,343.70 C585.48,340.53 586.32,337.78 587.20,334.80 C588.08,331.82 589.00,328.78 589.90,325.80 C590.80,322.82 591.70,319.88 592.60,316.90 C593.50,313.92 594.30,311.12 595.30,307.90 C596.30,304.68 597.45,300.80 598.60,297.60 C599.75,294.40 600.87,291.38 602.20,288.70 C603.53,286.02 605.12,283.00 606.60,281.50 C608.08,280.00 609.75,280.15 611.10,279.70 C612.45,279.25 613.35,278.20 614.70,278.80 C616.05,279.40 617.85,281.37 619.20,283.30 C620.55,285.23 621.62,288.02 622.80,290.40 C623.98,292.78 625.12,295.50 626.30,297.60 C627.48,299.70 628.70,301.65 629.90,303.00 C631.10,304.35 632.30,303.92 633.50,305.70 C634.70,307.48 636.03,311.45 637.10,313.70 C638.17,315.95 639.17,317.00 639.90,319.20 C640.63,321.40 640.85,325.12 641.50,326.90 C642.15,328.68 643.03,328.37 643.80,329.90 C644.57,331.43 645.22,334.43 646.10,336.10 C646.98,337.77 648.08,338.37 649.10,339.90 C650.12,341.43 650.92,343.58 652.20,345.30 C653.48,347.02 655.02,348.98 656.80,350.20 C658.58,351.42 660.60,352.05 662.90,352.60 C665.20,353.15 668.08,353.27 670.60,353.50 C673.12,353.73 676.77,353.92 678.00,354.00" fill="none" stroke="#14b0ee" stroke-width="1.7"/>
<path d="M581.90,353.80 C582.35,352.12 583.72,346.87 584.60,343.70 C585.48,340.53 586.32,337.78 587.20,334.80 C588.08,331.82 589.00,328.78 589.90,325.80 C590.80,322.82 591.70,319.88 592.60,316.90 C593.50,313.92 594.30,311.12 595.30,307.90 C596.30,304.68 597.45,300.80 598.60,297.60 C599.75,294.40 600.87,291.38 602.20,288.70 C603.53,286.02 605.12,283.00 606.60,281.50 C608.08,280.00 609.75,280.15 611.10,279.70 C612.45,279.25 613.35,278.20 614.70,278.80 C616.05,279.40 617.85,281.37 619.20,283.30 C620.55,285.23 621.62,288.02 622.80,290.40 C623.98,292.78 625.12,295.50 626.30,297.60 C627.48,299.70 628.70,301.65 629.90,303.00 C631.10,304.35 632.30,303.92 633.50,305.70 C634.70,307.48 636.03,311.45 637.10,313.70 C638.17,315.95 639.17,317.00 639.90,319.20 C640.63,321.40 640.85,325.12 641.50,326.90 C642.15,328.68 643.03,328.37 643.80,329.90 C644.57,331.43 645.22,334.43 646.10,336.10 C646.98,337.77 648.08,338.37 649.10,339.90 C650.12,341.43 650.92,343.58 652.20,345.30 C653.48,347.02 655.02,348.98 656.80,350.20 C658.58,351.42 660.60,352.05 662.90,352.60 C665.20,353.15 668.08,353.27 670.60,353.50 C673.12,353.73 676.77,353.92 678.00,354.00" fill="none" stroke="#111" stroke-width="1.25" stroke-dasharray="2.4,3.4" stroke-dashoffset="1"/>
<path d="M518.10,354.30 C519.25,354.18 522.68,353.98 525.00,353.60 C527.32,353.22 529.52,352.50 532.00,352.00 C534.48,351.50 537.40,350.68 539.90,350.60 C542.40,350.52 544.28,351.00 547.00,351.50 C549.72,352.00 552.37,353.17 556.20,353.60 C560.03,354.03 565.70,354.02 570.00,354.10 C574.30,354.18 580.00,354.10 582.00,354.10" fill="none" stroke="#19b4ec" stroke-width="1.5" stroke-dasharray="4,2"/>
<path d="M518.10,354.30 C519.25,354.18 522.68,353.98 525.00,353.60 C527.32,353.22 529.52,352.50 532.00,352.00 C534.48,351.50 537.40,350.68 539.90,350.60 C542.40,350.52 544.28,351.00 547.00,351.50 C549.72,352.00 552.37,353.17 556.20,353.60 C560.03,354.03 565.70,354.02 570.00,354.10 C574.30,354.18 580.00,354.10 582.00,354.10" fill="none" stroke="#f01010" stroke-width="1.2" stroke-dasharray="2,4" stroke-dashoffset="1"/>
</svg>
</body></html>
